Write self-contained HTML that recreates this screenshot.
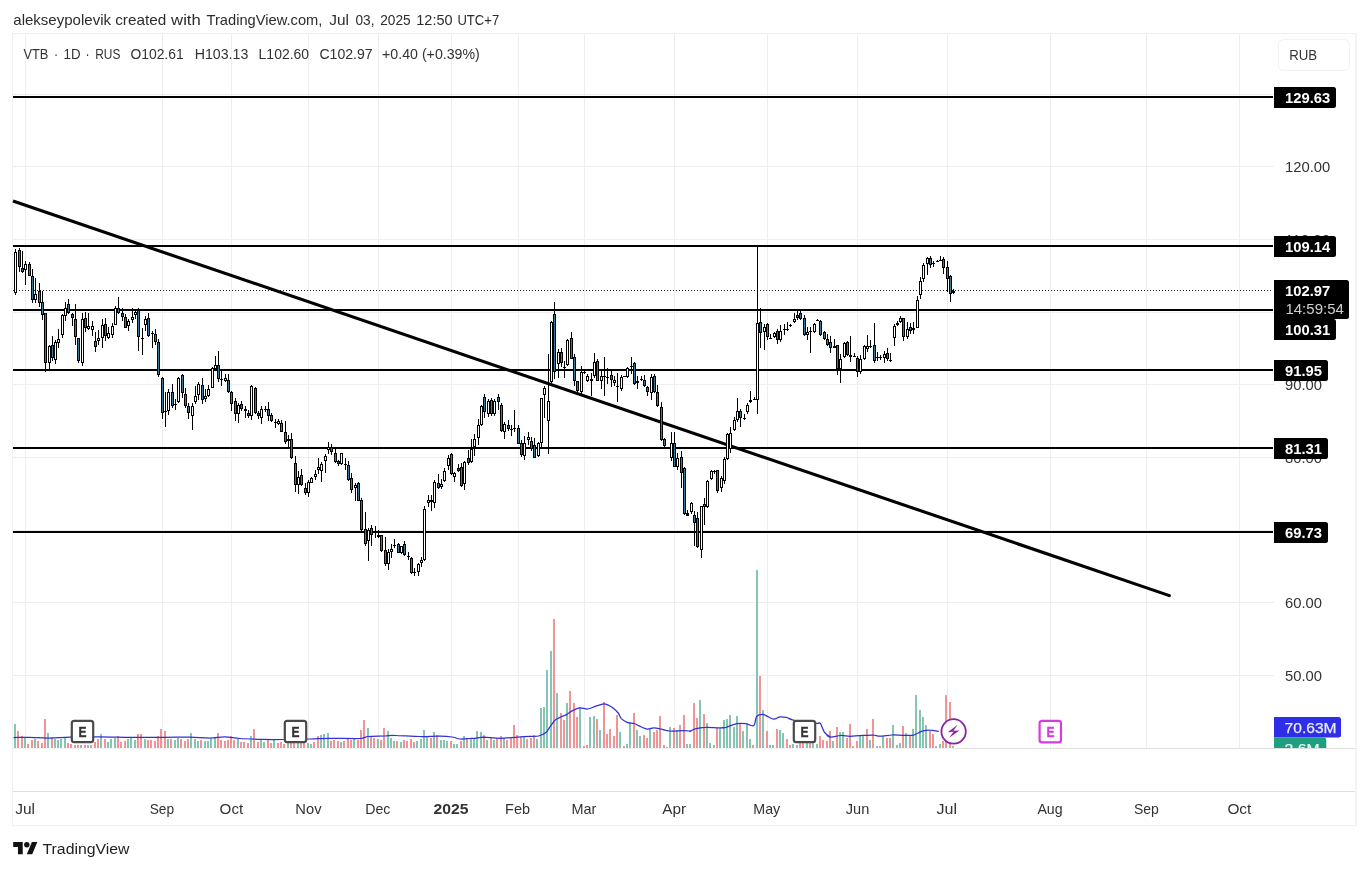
<!DOCTYPE html>
<html lang="en"><head><meta charset="utf-8"><title>VTB 1D chart</title>
<style>
html,body{margin:0;padding:0;background:#fff;}
body{width:1368px;height:870px;overflow:hidden;font-family:'Liberation Sans', sans-serif;}
svg{display:block;}
text{font-family:'Liberation Sans', sans-serif;}
.ax{font-size:14.6px;fill:#333;}
.lbl{font-size:15.5px;fill:#fff;font-weight:bold;}
</style></head><body>
<svg width="1368" height="870" viewBox="0 0 1368 870">
<rect width="1368" height="870" fill="#fff"/>

<text y="25" font-size="14.8" fill="#2c2c2c"><tspan x="13.3" textLength="97.7" lengthAdjust="spacingAndGlyphs">alekseypolevik</tspan> <tspan x="115.2" textLength="51.0" lengthAdjust="spacingAndGlyphs">created</tspan> <tspan x="171.1" textLength="29.7" lengthAdjust="spacingAndGlyphs">with</tspan> <tspan x="206.5" textLength="115.9" lengthAdjust="spacingAndGlyphs">TradingView.com,</tspan> <tspan x="329.3" textLength="19.7" lengthAdjust="spacingAndGlyphs">Jul</tspan> <tspan x="355.5" textLength="19.0" lengthAdjust="spacingAndGlyphs">03,</tspan> <tspan x="380.2" textLength="30.4" lengthAdjust="spacingAndGlyphs">2025</tspan> <tspan x="416.3" textLength="36.2" lengthAdjust="spacingAndGlyphs">12:50</tspan> <tspan x="457.4" textLength="41.8" lengthAdjust="spacingAndGlyphs">UTC+7</tspan></text>
<g shape-rendering="crispEdges">
<rect x="12" y="33" width="1343" height="793" fill="#fff" stroke="none"/>
<rect x="25" y="34" width="1" height="714" fill="#eeeef0"/>
<rect x="162" y="34" width="1" height="714" fill="#eeeef0"/>
<rect x="231" y="34" width="1" height="714" fill="#eeeef0"/>
<rect x="308" y="34" width="1" height="714" fill="#eeeef0"/>
<rect x="378" y="34" width="1" height="714" fill="#eeeef0"/>
<rect x="451" y="34" width="1" height="714" fill="#eeeef0"/>
<rect x="518" y="34" width="1" height="714" fill="#eeeef0"/>
<rect x="584" y="34" width="1" height="714" fill="#eeeef0"/>
<rect x="674" y="34" width="1" height="714" fill="#eeeef0"/>
<rect x="767" y="34" width="1" height="714" fill="#eeeef0"/>
<rect x="857" y="34" width="1" height="714" fill="#eeeef0"/>
<rect x="947" y="34" width="1" height="714" fill="#eeeef0"/>
<rect x="1050" y="34" width="1" height="714" fill="#eeeef0"/>
<rect x="1146" y="34" width="1" height="714" fill="#eeeef0"/>
<rect x="1239" y="34" width="1" height="714" fill="#eeeef0"/>
<rect x="13" y="94" width="1261" height="1" fill="#eeeef0"/>
<rect x="13" y="166" width="1261" height="1" fill="#eeeef0"/>
<rect x="13" y="239" width="1261" height="1" fill="#eeeef0"/>
<rect x="13" y="312" width="1261" height="1" fill="#eeeef0"/>
<rect x="13" y="384" width="1261" height="1" fill="#eeeef0"/>
<rect x="13" y="457" width="1261" height="1" fill="#eeeef0"/>
<rect x="13" y="530" width="1261" height="1" fill="#eeeef0"/>
<rect x="13" y="602" width="1261" height="1" fill="#eeeef0"/>
<rect x="13" y="675" width="1261" height="1" fill="#eeeef0"/>
<rect x="13" y="748" width="942" height="1" fill="#f3f3f3"/>
<rect x="955" y="748" width="400" height="1" fill="#dedede"/>
<rect x="13" y="791" width="1342" height="1" fill="#dedede"/>
<rect x="12" y="33" width="1343" height="1" fill="#f0f0f2"/>
<rect x="12" y="825" width="1343" height="1" fill="#f0f0f2"/>
<rect x="12" y="33" width="1" height="793" fill="#f0f0f2"/>
<rect x="1355" y="33" width="2" height="793" fill="#f3f3f5"/>
</g>
<g shape-rendering="crispEdges">
<rect x="14" y="723.5" width="2" height="24.5" fill="#86c5b4"/>
<rect x="17" y="731.0" width="2" height="17.0" fill="#ef9497"/>
<rect x="21" y="736.3" width="2" height="11.7" fill="#ef9497"/>
<rect x="24" y="737.0" width="2" height="11.0" fill="#86c5b4"/>
<rect x="27" y="744.1" width="2" height="3.9" fill="#ef9497"/>
<rect x="31" y="740.4" width="2" height="7.6" fill="#ef9497"/>
<rect x="34" y="739.2" width="2" height="8.8" fill="#86c5b4"/>
<rect x="37" y="741.3" width="2" height="6.7" fill="#ef9497"/>
<rect x="41" y="742.5" width="2" height="5.5" fill="#ef9497"/>
<rect x="44" y="719.3" width="2" height="28.7" fill="#ef9497"/>
<rect x="47" y="733.4" width="2" height="14.6" fill="#86c5b4"/>
<rect x="51" y="737.0" width="2" height="11.0" fill="#ef9497"/>
<rect x="54" y="739.2" width="2" height="8.8" fill="#86c5b4"/>
<rect x="57" y="740.4" width="2" height="7.6" fill="#86c5b4"/>
<rect x="60" y="739.2" width="2" height="8.8" fill="#86c5b4"/>
<rect x="64" y="737.0" width="2" height="11.0" fill="#86c5b4"/>
<rect x="67" y="742.5" width="2" height="5.5" fill="#ef9497"/>
<rect x="70" y="744.1" width="2" height="3.9" fill="#ef9497"/>
<rect x="74" y="745.0" width="2" height="3.0" fill="#ef9497"/>
<rect x="77" y="745.0" width="2" height="3.0" fill="#ef9497"/>
<rect x="80" y="745.0" width="2" height="3.0" fill="#86c5b4"/>
<rect x="84" y="745.0" width="2" height="3.0" fill="#ef9497"/>
<rect x="87" y="745.0" width="2" height="3.0" fill="#ef9497"/>
<rect x="90" y="744.5" width="2" height="3.5" fill="#86c5b4"/>
<rect x="94" y="741.6" width="2" height="6.4" fill="#ef9497"/>
<rect x="97" y="739.2" width="2" height="8.8" fill="#ef9497"/>
<rect x="100" y="734.3" width="2" height="13.7" fill="#86c5b4"/>
<rect x="104" y="739.2" width="2" height="8.8" fill="#ef9497"/>
<rect x="107" y="742.2" width="2" height="5.8" fill="#86c5b4"/>
<rect x="110" y="739.2" width="2" height="8.8" fill="#86c5b4"/>
<rect x="114" y="737.5" width="2" height="10.5" fill="#86c5b4"/>
<rect x="117" y="735.5" width="2" height="12.5" fill="#ef9497"/>
<rect x="120" y="741.6" width="2" height="6.4" fill="#ef9497"/>
<rect x="124" y="741.3" width="2" height="6.7" fill="#ef9497"/>
<rect x="127" y="739.2" width="2" height="8.8" fill="#86c5b4"/>
<rect x="130" y="738.3" width="2" height="9.7" fill="#86c5b4"/>
<rect x="134" y="740.2" width="2" height="7.8" fill="#86c5b4"/>
<rect x="137" y="734.3" width="2" height="13.7" fill="#ef9497"/>
<rect x="140" y="734.3" width="2" height="13.7" fill="#ef9497"/>
<rect x="144" y="739.2" width="2" height="8.8" fill="#86c5b4"/>
<rect x="147" y="740.2" width="2" height="7.8" fill="#ef9497"/>
<rect x="150" y="740.4" width="2" height="7.6" fill="#ef9497"/>
<rect x="154" y="741.3" width="2" height="6.7" fill="#ef9497"/>
<rect x="157" y="735.5" width="2" height="12.5" fill="#ef9497"/>
<rect x="160" y="729.3" width="2" height="18.7" fill="#ef9497"/>
<rect x="164" y="731.3" width="2" height="16.7" fill="#ef9497"/>
<rect x="167" y="738.6" width="2" height="9.4" fill="#86c5b4"/>
<rect x="170" y="738.6" width="2" height="9.4" fill="#ef9497"/>
<rect x="174" y="740.4" width="2" height="7.6" fill="#86c5b4"/>
<rect x="177" y="738.3" width="2" height="9.7" fill="#86c5b4"/>
<rect x="180" y="739.2" width="2" height="8.8" fill="#ef9497"/>
<rect x="184" y="741.3" width="2" height="6.7" fill="#ef9497"/>
<rect x="187" y="739.2" width="2" height="8.8" fill="#ef9497"/>
<rect x="190" y="733.4" width="2" height="14.6" fill="#86c5b4"/>
<rect x="194" y="738.6" width="2" height="9.4" fill="#86c5b4"/>
<rect x="197" y="741.3" width="2" height="6.7" fill="#86c5b4"/>
<rect x="200" y="740.4" width="2" height="7.6" fill="#ef9497"/>
<rect x="204" y="741.3" width="2" height="6.7" fill="#86c5b4"/>
<rect x="207" y="741.3" width="2" height="6.7" fill="#86c5b4"/>
<rect x="210" y="738.3" width="2" height="9.7" fill="#86c5b4"/>
<rect x="214" y="736.7" width="2" height="11.3" fill="#86c5b4"/>
<rect x="217" y="733.4" width="2" height="14.6" fill="#ef9497"/>
<rect x="220" y="740.2" width="2" height="7.8" fill="#ef9497"/>
<rect x="224" y="741.3" width="2" height="6.7" fill="#ef9497"/>
<rect x="227" y="740.4" width="2" height="7.6" fill="#ef9497"/>
<rect x="230" y="736.3" width="2" height="11.7" fill="#ef9497"/>
<rect x="233" y="740.2" width="2" height="7.8" fill="#ef9497"/>
<rect x="237" y="739.2" width="2" height="8.8" fill="#86c5b4"/>
<rect x="240" y="742.2" width="2" height="5.8" fill="#ef9497"/>
<rect x="243" y="742.2" width="2" height="5.8" fill="#ef9497"/>
<rect x="247" y="743.3" width="2" height="4.7" fill="#ef9497"/>
<rect x="250" y="736.3" width="2" height="11.7" fill="#86c5b4"/>
<rect x="253" y="729.3" width="2" height="18.7" fill="#ef9497"/>
<rect x="257" y="742.2" width="2" height="5.8" fill="#ef9497"/>
<rect x="260" y="739.2" width="2" height="8.8" fill="#86c5b4"/>
<rect x="263" y="742.2" width="2" height="5.8" fill="#86c5b4"/>
<rect x="267" y="740.2" width="2" height="7.8" fill="#ef9497"/>
<rect x="270" y="743.3" width="2" height="4.7" fill="#ef9497"/>
<rect x="273" y="739.2" width="2" height="8.8" fill="#86c5b4"/>
<rect x="277" y="743.3" width="2" height="4.7" fill="#ef9497"/>
<rect x="280" y="742.2" width="2" height="5.8" fill="#ef9497"/>
<rect x="283" y="744.1" width="2" height="3.9" fill="#ef9497"/>
<rect x="287" y="742.0" width="2" height="6.0" fill="#86c5b4"/>
<rect x="290" y="739.0" width="2" height="9.0" fill="#ef9497"/>
<rect x="293" y="734.0" width="2" height="14.0" fill="#ef9497"/>
<rect x="297" y="739.0" width="2" height="9.0" fill="#86c5b4"/>
<rect x="300" y="741.0" width="2" height="7.0" fill="#ef9497"/>
<rect x="303" y="742.0" width="2" height="6.0" fill="#ef9497"/>
<rect x="307" y="743.3" width="2" height="4.7" fill="#86c5b4"/>
<rect x="310" y="744.1" width="2" height="3.9" fill="#86c5b4"/>
<rect x="313" y="742.2" width="2" height="5.8" fill="#ef9497"/>
<rect x="317" y="736.3" width="2" height="11.7" fill="#ef9497"/>
<rect x="320" y="735.1" width="2" height="12.9" fill="#86c5b4"/>
<rect x="323" y="734.3" width="2" height="13.7" fill="#86c5b4"/>
<rect x="327" y="733.4" width="2" height="14.6" fill="#86c5b4"/>
<rect x="330" y="741.3" width="2" height="6.7" fill="#ef9497"/>
<rect x="333" y="740.4" width="2" height="7.6" fill="#ef9497"/>
<rect x="337" y="741.3" width="2" height="6.7" fill="#ef9497"/>
<rect x="340" y="742.2" width="2" height="5.8" fill="#86c5b4"/>
<rect x="343" y="741.3" width="2" height="6.7" fill="#ef9497"/>
<rect x="347" y="738.3" width="2" height="9.7" fill="#ef9497"/>
<rect x="350" y="740.2" width="2" height="7.8" fill="#ef9497"/>
<rect x="353" y="737.5" width="2" height="10.5" fill="#86c5b4"/>
<rect x="357" y="740.2" width="2" height="7.8" fill="#ef9497"/>
<rect x="360" y="730.1" width="2" height="17.9" fill="#ef9497"/>
<rect x="363" y="720.3" width="2" height="27.7" fill="#ef9497"/>
<rect x="367" y="728.1" width="2" height="19.9" fill="#86c5b4"/>
<rect x="370" y="735.5" width="2" height="12.5" fill="#ef9497"/>
<rect x="373" y="737.5" width="2" height="10.5" fill="#ef9497"/>
<rect x="377" y="739.2" width="2" height="8.8" fill="#86c5b4"/>
<rect x="380" y="740.2" width="2" height="7.8" fill="#ef9497"/>
<rect x="383" y="728.1" width="2" height="19.9" fill="#ef9497"/>
<rect x="387" y="731.3" width="2" height="16.7" fill="#86c5b4"/>
<rect x="390" y="738.1" width="2" height="9.9" fill="#86c5b4"/>
<rect x="393" y="741.3" width="2" height="6.7" fill="#86c5b4"/>
<rect x="396" y="741.3" width="2" height="6.7" fill="#ef9497"/>
<rect x="400" y="742.2" width="2" height="5.8" fill="#86c5b4"/>
<rect x="403" y="740.2" width="2" height="7.8" fill="#ef9497"/>
<rect x="406" y="741.3" width="2" height="6.7" fill="#ef9497"/>
<rect x="410" y="739.2" width="2" height="8.8" fill="#ef9497"/>
<rect x="413" y="742.2" width="2" height="5.8" fill="#ef9497"/>
<rect x="416" y="741.3" width="2" height="6.7" fill="#86c5b4"/>
<rect x="420" y="739.2" width="2" height="8.8" fill="#86c5b4"/>
<rect x="423" y="730.1" width="2" height="17.9" fill="#86c5b4"/>
<rect x="426" y="736.9" width="2" height="11.1" fill="#86c5b4"/>
<rect x="430" y="737.5" width="2" height="10.5" fill="#ef9497"/>
<rect x="433" y="732.2" width="2" height="15.8" fill="#86c5b4"/>
<rect x="436" y="735.1" width="2" height="12.9" fill="#ef9497"/>
<rect x="440" y="740.2" width="2" height="7.8" fill="#86c5b4"/>
<rect x="443" y="740.2" width="2" height="7.8" fill="#86c5b4"/>
<rect x="446" y="741.3" width="2" height="6.7" fill="#86c5b4"/>
<rect x="450" y="741.3" width="2" height="6.7" fill="#ef9497"/>
<rect x="453" y="744.1" width="2" height="3.9" fill="#86c5b4"/>
<rect x="456" y="744.1" width="2" height="3.9" fill="#86c5b4"/>
<rect x="460" y="741.3" width="2" height="6.7" fill="#ef9497"/>
<rect x="463" y="736.3" width="2" height="11.7" fill="#86c5b4"/>
<rect x="466" y="739.2" width="2" height="8.8" fill="#ef9497"/>
<rect x="470" y="737.5" width="2" height="10.5" fill="#86c5b4"/>
<rect x="473" y="737.5" width="2" height="10.5" fill="#86c5b4"/>
<rect x="476" y="731.3" width="2" height="16.7" fill="#86c5b4"/>
<rect x="480" y="732.2" width="2" height="15.8" fill="#86c5b4"/>
<rect x="483" y="735.1" width="2" height="12.9" fill="#ef9497"/>
<rect x="486" y="740.0" width="2" height="8.0" fill="#86c5b4"/>
<rect x="490" y="737.9" width="2" height="10.1" fill="#ef9497"/>
<rect x="493" y="740.0" width="2" height="8.0" fill="#86c5b4"/>
<rect x="496" y="738.3" width="2" height="9.7" fill="#ef9497"/>
<rect x="500" y="736.3" width="2" height="11.7" fill="#ef9497"/>
<rect x="503" y="737.9" width="2" height="10.1" fill="#86c5b4"/>
<rect x="506" y="740.0" width="2" height="8.0" fill="#ef9497"/>
<rect x="510" y="737.9" width="2" height="10.1" fill="#ef9497"/>
<rect x="513" y="725.0" width="2" height="23.0" fill="#ef9497"/>
<rect x="516" y="735.1" width="2" height="12.9" fill="#ef9497"/>
<rect x="520" y="737.1" width="2" height="10.9" fill="#ef9497"/>
<rect x="523" y="737.1" width="2" height="10.9" fill="#86c5b4"/>
<rect x="526" y="739.0" width="2" height="9.0" fill="#ef9497"/>
<rect x="530" y="737.9" width="2" height="10.1" fill="#ef9497"/>
<rect x="533" y="735.1" width="2" height="12.9" fill="#ef9497"/>
<rect x="536" y="739.0" width="2" height="9.0" fill="#86c5b4"/>
<rect x="540" y="708.1" width="2" height="39.9" fill="#86c5b4"/>
<rect x="543" y="707.0" width="2" height="41.0" fill="#86c5b4"/>
<rect x="546" y="670.0" width="2" height="78.0" fill="#86c5b4"/>
<rect x="550" y="651.0" width="2" height="97.0" fill="#86c5b4"/>
<rect x="553" y="619.1" width="2" height="128.9" fill="#ef9497"/>
<rect x="556" y="692.8" width="2" height="55.2" fill="#86c5b4"/>
<rect x="560" y="712.9" width="2" height="35.1" fill="#ef9497"/>
<rect x="563" y="720.2" width="2" height="27.8" fill="#ef9497"/>
<rect x="566" y="703.0" width="2" height="45.0" fill="#86c5b4"/>
<rect x="569" y="690.9" width="2" height="57.1" fill="#ef9497"/>
<rect x="573" y="703.0" width="2" height="45.0" fill="#ef9497"/>
<rect x="576" y="717.0" width="2" height="31.0" fill="#ef9497"/>
<rect x="579" y="707.3" width="2" height="40.7" fill="#86c5b4"/>
<rect x="583" y="746.0" width="2" height="2.0" fill="#ef9497"/>
<rect x="586" y="745.1" width="2" height="2.9" fill="#ef9497"/>
<rect x="589" y="717.0" width="2" height="31.0" fill="#86c5b4"/>
<rect x="593" y="715.8" width="2" height="32.2" fill="#86c5b4"/>
<rect x="596" y="719.0" width="2" height="29.0" fill="#ef9497"/>
<rect x="599" y="729.8" width="2" height="18.2" fill="#86c5b4"/>
<rect x="603" y="702.0" width="2" height="46.0" fill="#ef9497"/>
<rect x="606" y="733.8" width="2" height="14.2" fill="#ef9497"/>
<rect x="609" y="729.0" width="2" height="19.0" fill="#ef9497"/>
<rect x="613" y="736.3" width="2" height="11.7" fill="#ef9497"/>
<rect x="616" y="714.8" width="2" height="33.2" fill="#ef9497"/>
<rect x="619" y="731.9" width="2" height="16.1" fill="#86c5b4"/>
<rect x="623" y="746.0" width="2" height="2.0" fill="#ef9497"/>
<rect x="626" y="743.8" width="2" height="4.2" fill="#86c5b4"/>
<rect x="629" y="723.4" width="2" height="24.6" fill="#86c5b4"/>
<rect x="633" y="712.9" width="2" height="35.1" fill="#ef9497"/>
<rect x="636" y="729.8" width="2" height="18.2" fill="#86c5b4"/>
<rect x="639" y="736.3" width="2" height="11.7" fill="#86c5b4"/>
<rect x="643" y="735.1" width="2" height="12.9" fill="#ef9497"/>
<rect x="646" y="737.9" width="2" height="10.1" fill="#ef9497"/>
<rect x="649" y="729.0" width="2" height="19.0" fill="#86c5b4"/>
<rect x="653" y="731.9" width="2" height="16.1" fill="#ef9497"/>
<rect x="656" y="729.8" width="2" height="18.2" fill="#ef9497"/>
<rect x="659" y="715.8" width="2" height="32.2" fill="#ef9497"/>
<rect x="663" y="744.8" width="2" height="3.2" fill="#ef9497"/>
<rect x="666" y="747.0" width="2" height="1.0" fill="#86c5b4"/>
<rect x="669" y="727.1" width="2" height="20.9" fill="#86c5b4"/>
<rect x="673" y="727.9" width="2" height="20.1" fill="#ef9497"/>
<rect x="676" y="729.8" width="2" height="18.2" fill="#86c5b4"/>
<rect x="679" y="725.0" width="2" height="23.0" fill="#ef9497"/>
<rect x="683" y="714.8" width="2" height="33.2" fill="#ef9497"/>
<rect x="686" y="743.8" width="2" height="4.2" fill="#86c5b4"/>
<rect x="689" y="743.8" width="2" height="4.2" fill="#86c5b4"/>
<rect x="693" y="703.0" width="2" height="45.0" fill="#ef9497"/>
<rect x="696" y="718.0" width="2" height="30.0" fill="#ef9497"/>
<rect x="699" y="700.2" width="2" height="47.8" fill="#86c5b4"/>
<rect x="703" y="714.1" width="2" height="33.9" fill="#ef9497"/>
<rect x="706" y="723.2" width="2" height="24.8" fill="#86c5b4"/>
<rect x="709" y="743.3" width="2" height="4.7" fill="#86c5b4"/>
<rect x="713" y="745.4" width="2" height="2.6" fill="#86c5b4"/>
<rect x="716" y="728.3" width="2" height="19.7" fill="#ef9497"/>
<rect x="719" y="728.3" width="2" height="19.7" fill="#86c5b4"/>
<rect x="723" y="720.1" width="2" height="27.9" fill="#86c5b4"/>
<rect x="726" y="719.0" width="2" height="29.0" fill="#86c5b4"/>
<rect x="729" y="715.4" width="2" height="32.6" fill="#86c5b4"/>
<rect x="733" y="727.3" width="2" height="20.7" fill="#86c5b4"/>
<rect x="736" y="716.1" width="2" height="31.9" fill="#86c5b4"/>
<rect x="739" y="722.6" width="2" height="25.4" fill="#ef9497"/>
<rect x="742" y="731.2" width="2" height="16.8" fill="#86c5b4"/>
<rect x="746" y="724.2" width="2" height="23.8" fill="#86c5b4"/>
<rect x="749" y="739.2" width="2" height="8.8" fill="#86c5b4"/>
<rect x="752" y="745.1" width="2" height="2.9" fill="#ef9497"/>
<rect x="756" y="570.0" width="2" height="178.0" fill="#86c5b4"/>
<rect x="759" y="676.1" width="2" height="71.9" fill="#ef9497"/>
<rect x="762" y="710.2" width="2" height="37.8" fill="#86c5b4"/>
<rect x="766" y="731.2" width="2" height="16.8" fill="#ef9497"/>
<rect x="769" y="745.4" width="2" height="2.6" fill="#86c5b4"/>
<rect x="772" y="745.4" width="2" height="2.6" fill="#86c5b4"/>
<rect x="776" y="729.2" width="2" height="18.8" fill="#ef9497"/>
<rect x="779" y="730.2" width="2" height="17.8" fill="#86c5b4"/>
<rect x="782" y="733.1" width="2" height="14.9" fill="#86c5b4"/>
<rect x="786" y="739.2" width="2" height="8.8" fill="#ef9497"/>
<rect x="789" y="745.1" width="2" height="2.9" fill="#ef9497"/>
<rect x="792" y="744.4" width="2" height="3.6" fill="#86c5b4"/>
<rect x="796" y="745.0" width="2" height="3.0" fill="#86c5b4"/>
<rect x="799" y="736.0" width="2" height="12.0" fill="#ef9497"/>
<rect x="802" y="732.0" width="2" height="16.0" fill="#ef9497"/>
<rect x="806" y="739.0" width="2" height="9.0" fill="#86c5b4"/>
<rect x="809" y="734.0" width="2" height="14.0" fill="#ef9497"/>
<rect x="812" y="739.0" width="2" height="9.0" fill="#86c5b4"/>
<rect x="816" y="744.4" width="2" height="3.6" fill="#86c5b4"/>
<rect x="819" y="736.1" width="2" height="11.9" fill="#ef9497"/>
<rect x="822" y="740.2" width="2" height="7.8" fill="#ef9497"/>
<rect x="826" y="741.3" width="2" height="6.7" fill="#ef9497"/>
<rect x="829" y="731.2" width="2" height="16.8" fill="#ef9497"/>
<rect x="832" y="741.3" width="2" height="6.7" fill="#86c5b4"/>
<rect x="836" y="727.3" width="2" height="20.7" fill="#ef9497"/>
<rect x="839" y="732.3" width="2" height="15.7" fill="#86c5b4"/>
<rect x="842" y="732.3" width="2" height="15.7" fill="#86c5b4"/>
<rect x="846" y="738.2" width="2" height="9.8" fill="#ef9497"/>
<rect x="849" y="724.2" width="2" height="23.8" fill="#ef9497"/>
<rect x="852" y="746.1" width="2" height="1.9" fill="#ef9497"/>
<rect x="856" y="741.3" width="2" height="6.7" fill="#ef9497"/>
<rect x="859" y="736.1" width="2" height="11.9" fill="#86c5b4"/>
<rect x="862" y="736.1" width="2" height="11.9" fill="#86c5b4"/>
<rect x="866" y="729.2" width="2" height="18.8" fill="#ef9497"/>
<rect x="869" y="740.2" width="2" height="7.8" fill="#86c5b4"/>
<rect x="872" y="719.2" width="2" height="28.8" fill="#ef9497"/>
<rect x="876" y="746.1" width="2" height="1.9" fill="#86c5b4"/>
<rect x="879" y="746.1" width="2" height="1.9" fill="#ef9497"/>
<rect x="882" y="736.1" width="2" height="11.9" fill="#86c5b4"/>
<rect x="886" y="738.2" width="2" height="9.8" fill="#ef9497"/>
<rect x="889" y="738.2" width="2" height="9.8" fill="#ef9497"/>
<rect x="892" y="725.2" width="2" height="22.8" fill="#86c5b4"/>
<rect x="896" y="745.4" width="2" height="2.6" fill="#86c5b4"/>
<rect x="899" y="743.3" width="2" height="4.7" fill="#86c5b4"/>
<rect x="902" y="726.3" width="2" height="21.7" fill="#ef9497"/>
<rect x="905" y="733.1" width="2" height="14.9" fill="#86c5b4"/>
<rect x="909" y="736.1" width="2" height="11.9" fill="#ef9497"/>
<rect x="912" y="729.2" width="2" height="18.8" fill="#86c5b4"/>
<rect x="915" y="695.2" width="2" height="52.8" fill="#86c5b4"/>
<rect x="919" y="710.2" width="2" height="37.8" fill="#86c5b4"/>
<rect x="922" y="717.2" width="2" height="30.8" fill="#86c5b4"/>
<rect x="925" y="725.2" width="2" height="22.8" fill="#86c5b4"/>
<rect x="929" y="731.2" width="2" height="16.8" fill="#ef9497"/>
<rect x="932" y="734.1" width="2" height="13.9" fill="#ef9497"/>
<rect x="935" y="746.1" width="2" height="1.9" fill="#86c5b4"/>
<rect x="939" y="744.1" width="2" height="3.9" fill="#86c5b4"/>
<rect x="942" y="741.3" width="2" height="6.7" fill="#ef9497"/>
<rect x="945" y="695.2" width="2" height="52.8" fill="#ef9497"/>
<rect x="949" y="702.3" width="2" height="45.7" fill="#ef9497"/>
<rect x="952" y="746.1" width="2" height="1.9" fill="#86c5b4"/>
</g>
<path d="M13.5 737.5C16.1 737.5 24.2 737.2 30.0 737.3C35.8 737.4 43.6 738.2 50.0 738.2C56.4 738.2 62.0 737.4 70.0 737.2C78.0 737.0 90.4 736.8 100.0 736.8C109.6 736.8 119.6 737.2 130.0 737.3C140.4 737.4 155.4 737.3 165.0 737.3C174.6 737.3 182.8 737.1 190.0 737.2C197.2 737.3 204.4 738.1 210.0 738.0C215.6 737.9 220.2 736.7 225.0 736.8C229.8 736.9 234.1 738.1 240.0 738.5C245.9 738.9 255.1 739.2 262.0 739.4C268.9 739.6 275.3 739.6 283.0 739.5C290.7 739.4 302.5 739.2 310.0 739.0C317.5 738.8 322.0 738.4 330.0 738.3C338.0 738.2 353.9 738.8 360.0 738.5C366.1 738.2 364.0 736.9 368.0 736.5C372.0 736.1 380.7 736.2 385.0 736.0C389.3 735.8 389.4 735.4 395.0 735.5C400.6 735.6 412.8 736.4 420.0 736.5C427.2 736.6 434.9 736.1 440.0 736.2C445.1 736.3 448.8 736.6 452.0 737.0C455.2 737.4 457.1 738.8 460.0 739.0C462.9 739.2 467.6 738.6 470.0 738.5C472.4 738.4 472.8 738.6 475.0 738.4C477.2 738.2 479.7 737.2 483.9 737.1C488.0 737.1 494.4 738.3 500.7 738.3C507.1 738.2 517.2 737.0 523.3 736.6C529.3 736.3 535.0 736.6 538.6 736.0C542.2 735.4 543.9 734.2 545.8 732.6C547.7 731.0 549.1 727.9 550.6 725.9C552.2 723.8 553.7 721.2 555.5 719.8C557.3 718.3 560.1 717.4 561.9 716.5C563.7 715.7 565.2 715.5 566.7 714.6C568.3 713.7 569.5 712.1 571.6 711.1C573.6 710.0 577.0 708.2 579.6 707.8C582.2 707.5 585.1 709.2 587.6 709.0C590.2 708.7 593.1 707.1 595.7 706.2C598.3 705.4 601.7 704.0 603.7 703.8C605.8 703.7 607.0 704.6 608.6 705.3C610.1 706.0 611.9 706.9 613.4 708.2C614.9 709.4 616.9 711.3 618.2 713.0C619.5 714.7 620.0 717.1 621.4 718.6C622.9 720.1 625.0 721.6 627.1 722.3C629.1 723.1 632.4 722.9 634.3 723.5C636.2 724.0 637.1 725.0 639.1 725.9C641.2 726.8 644.9 728.8 647.2 729.1C649.5 729.4 651.6 727.9 653.6 727.8C655.7 727.7 657.5 728.2 660.1 728.8C662.6 729.3 666.1 730.7 669.7 731.0C673.3 731.3 679.2 730.7 682.6 730.7C685.9 730.7 689.5 730.9 690.6 731.0C691.8 731.1 689.3 731.8 690.0 731.4C690.7 731.0 692.7 729.5 695.2 728.8C697.7 728.1 701.7 727.4 705.5 727.3C709.3 727.1 715.7 727.8 719.0 727.8C722.3 727.8 723.4 727.9 726.2 727.3C729.0 726.6 733.4 724.2 736.6 723.6C739.7 723.1 743.7 723.4 745.9 723.6C748.0 723.9 748.7 724.9 750.0 725.2C751.3 725.4 753.1 726.6 754.2 725.2C755.2 723.8 755.4 718.1 756.7 716.4C758.1 714.7 760.7 714.3 762.4 714.3C764.2 714.3 765.8 715.6 767.6 716.4C769.4 717.2 771.8 719.1 773.8 719.2C775.8 719.3 778.0 717.2 780.0 716.9C782.0 716.6 784.2 717.0 786.2 717.4C788.2 717.9 789.6 719.1 792.4 719.8C795.3 720.6 799.9 721.5 803.8 722.1C807.8 722.6 814.6 723.1 817.3 723.3C819.9 723.5 819.2 721.9 820.4 723.3C821.5 724.8 823.0 730.3 824.5 732.4C826.1 734.6 829.6 736.3 830.0 736.8C830.4 737.3 826.9 735.5 827.1 735.5C827.3 735.6 829.1 737.1 831.2 737.1C833.4 737.1 837.5 735.7 840.5 735.5C843.5 735.4 846.9 736.3 849.8 736.4C852.8 736.4 855.5 736.0 859.1 735.7C862.8 735.5 869.3 735.0 872.6 735.0C875.9 735.1 876.7 736.1 879.8 736.1C883.0 736.1 888.6 735.1 892.3 735.0C895.9 734.9 899.3 735.3 902.6 735.3C905.9 735.4 910.5 735.7 913.0 735.3C915.4 735.0 916.5 733.7 918.1 733.0C919.8 732.2 921.5 731.3 923.3 730.9C925.1 730.4 927.0 730.1 929.5 730.2C932.0 730.2 937.3 731.2 938.8 731.4" fill="none" stroke="#3030d8" stroke-width="1.25" stroke-linejoin="round"/>
<g shape-rendering="crispEdges">
<rect x="13" y="96" width="1260" height="2" fill="#000"/>
<rect x="13" y="245" width="1260" height="2" fill="#000"/>
<rect x="13" y="309" width="1260" height="2" fill="#000"/>
<rect x="13" y="369" width="1260" height="2" fill="#000"/>
<rect x="13" y="447" width="1260" height="2" fill="#000"/>
<rect x="13" y="531" width="1260" height="2" fill="#000"/>
</g>
<line x1="13" y1="290.5" x2="1273" y2="290.5" stroke="#222" stroke-width="1" stroke-dasharray="1 2" shape-rendering="crispEdges"/>
<line x1="13" y1="201.0" x2="1169.4" y2="595.6" stroke="#000" stroke-width="3.1"/>
<circle cx="1169.4" cy="595.6" r="1.55" fill="#000"/>
<g shape-rendering="crispEdges">
<rect x="15" y="249.2" width="1" height="46.0" fill="#000"/>
<rect x="14" y="252.0" width="3" height="41.4" fill="#000"/>
<rect x="15" y="253.0" width="1" height="39.4" fill="#fff"/>
<rect x="19" y="248.3" width="1" height="23.9" fill="#000"/>
<rect x="18" y="250.1" width="3" height="16.6" fill="#000"/>
<rect x="19" y="251.1" width="1" height="14.6" fill="#3b7798"/>
<rect x="22" y="251.0" width="1" height="22.4" fill="#000"/>
<rect x="21" y="267.6" width="3" height="4.0" fill="#000"/>
<rect x="22" y="268.6" width="1" height="2.0" fill="#3b7798"/>
<rect x="25" y="261.1" width="1" height="23.9" fill="#000"/>
<rect x="24" y="263.9" width="3" height="6.4" fill="#000"/>
<rect x="25" y="264.9" width="1" height="4.4" fill="#fff"/>
<rect x="29" y="262.1" width="1" height="13.8" fill="#000"/>
<rect x="28" y="263.9" width="3" height="12.0" fill="#000"/>
<rect x="29" y="264.9" width="1" height="10.0" fill="#3b7798"/>
<rect x="32" y="269.4" width="1" height="33.1" fill="#000"/>
<rect x="31" y="275.9" width="3" height="23.9" fill="#000"/>
<rect x="32" y="276.9" width="1" height="21.9" fill="#3b7798"/>
<rect x="35" y="277.7" width="1" height="24.8" fill="#000"/>
<rect x="34" y="294.3" width="3" height="5.5" fill="#000"/>
<rect x="35" y="295.3" width="1" height="3.5" fill="#fff"/>
<rect x="39" y="283.2" width="1" height="23.9" fill="#000"/>
<rect x="38" y="290.6" width="3" height="12.0" fill="#000"/>
<rect x="39" y="291.6" width="1" height="10.0" fill="#3b7798"/>
<rect x="42" y="290.6" width="1" height="29.4" fill="#000"/>
<rect x="41" y="301.6" width="3" height="13.8" fill="#000"/>
<rect x="42" y="302.6" width="1" height="11.8" fill="#3b7798"/>
<rect x="45" y="312.6" width="1" height="59.8" fill="#000"/>
<rect x="44" y="312.6" width="3" height="50.6" fill="#000"/>
<rect x="45" y="313.6" width="1" height="48.6" fill="#3b7798"/>
<rect x="49" y="344.8" width="1" height="26.1" fill="#000"/>
<rect x="48" y="345.7" width="3" height="17.5" fill="#000"/>
<rect x="49" y="346.7" width="1" height="15.5" fill="#fff"/>
<rect x="52" y="335.6" width="1" height="25.7" fill="#000"/>
<rect x="51" y="344.8" width="3" height="12.9" fill="#000"/>
<rect x="52" y="345.8" width="1" height="10.9" fill="#3b7798"/>
<rect x="55" y="340.2" width="1" height="23.4" fill="#000"/>
<rect x="54" y="342.1" width="3" height="17.5" fill="#000"/>
<rect x="55" y="343.1" width="1" height="15.5" fill="#fff"/>
<rect x="58" y="329.2" width="1" height="18.4" fill="#000"/>
<rect x="57" y="339.3" width="3" height="3.3" fill="#000"/>
<rect x="58" y="340.3" width="1" height="1.3" fill="#fff"/>
<rect x="62" y="313.6" width="1" height="23.9" fill="#000"/>
<rect x="61" y="314.5" width="3" height="20.2" fill="#000"/>
<rect x="62" y="315.5" width="1" height="18.2" fill="#fff"/>
<rect x="65" y="301.6" width="1" height="19.3" fill="#000"/>
<rect x="64" y="307.7" width="3" height="8.6" fill="#000"/>
<rect x="65" y="308.7" width="1" height="6.6" fill="#fff"/>
<rect x="68" y="298.9" width="1" height="14.7" fill="#000"/>
<rect x="67" y="304.4" width="3" height="8.3" fill="#000"/>
<rect x="68" y="305.4" width="1" height="6.3" fill="#3b7798"/>
<rect x="72" y="312.6" width="1" height="12.9" fill="#000"/>
<rect x="71" y="313.6" width="3" height="4.6" fill="#000"/>
<rect x="72" y="314.6" width="1" height="2.6" fill="#3b7798"/>
<rect x="75" y="304.4" width="1" height="40.5" fill="#000"/>
<rect x="74" y="319.1" width="3" height="17.5" fill="#000"/>
<rect x="75" y="320.1" width="1" height="15.5" fill="#3b7798"/>
<rect x="78" y="337.5" width="1" height="25.4" fill="#000"/>
<rect x="77" y="337.5" width="3" height="23.0" fill="#000"/>
<rect x="78" y="338.5" width="1" height="21.0" fill="#3b7798"/>
<rect x="82" y="313.2" width="1" height="52.8" fill="#000"/>
<rect x="81" y="319.1" width="3" height="44.1" fill="#000"/>
<rect x="82" y="320.1" width="1" height="42.1" fill="#fff"/>
<rect x="85" y="311.7" width="1" height="20.2" fill="#000"/>
<rect x="84" y="318.2" width="3" height="10.1" fill="#000"/>
<rect x="85" y="319.2" width="1" height="8.1" fill="#3b7798"/>
<rect x="88" y="312.6" width="1" height="17.5" fill="#000"/>
<rect x="87" y="326.1" width="3" height="3.1" fill="#000"/>
<rect x="88" y="327.1" width="1" height="1.1" fill="#fff"/>
<rect x="92" y="320.9" width="1" height="14.7" fill="#000"/>
<rect x="91" y="326.1" width="3" height="3.7" fill="#000"/>
<rect x="92" y="327.1" width="1" height="1.7" fill="#fff"/>
<rect x="95" y="332.0" width="1" height="19.7" fill="#000"/>
<rect x="94" y="341.1" width="3" height="5.5" fill="#000"/>
<rect x="95" y="342.1" width="1" height="3.5" fill="#3b7798"/>
<rect x="98" y="330.1" width="1" height="14.7" fill="#000"/>
<rect x="97" y="338.4" width="3" height="2.4" fill="#000"/>
<rect x="98" y="339.4" width="1" height="0.4" fill="#fff"/>
<rect x="102" y="319.1" width="1" height="28.5" fill="#000"/>
<rect x="101" y="324.6" width="3" height="12.9" fill="#000"/>
<rect x="102" y="325.6" width="1" height="10.9" fill="#fff"/>
<rect x="105" y="318.2" width="1" height="22.6" fill="#000"/>
<rect x="104" y="324.2" width="3" height="11.4" fill="#000"/>
<rect x="105" y="325.2" width="1" height="9.4" fill="#3b7798"/>
<rect x="108" y="326.8" width="1" height="12.1" fill="#000"/>
<rect x="107" y="333.4" width="3" height="4.4" fill="#000"/>
<rect x="108" y="334.4" width="1" height="2.4" fill="#fff"/>
<rect x="112" y="322.8" width="1" height="14.7" fill="#000"/>
<rect x="111" y="326.1" width="3" height="8.6" fill="#000"/>
<rect x="112" y="327.1" width="1" height="6.6" fill="#fff"/>
<rect x="115" y="306.2" width="1" height="18.4" fill="#000"/>
<rect x="114" y="307.7" width="3" height="16.9" fill="#000"/>
<rect x="115" y="308.7" width="1" height="14.9" fill="#fff"/>
<rect x="118" y="297.4" width="1" height="16.6" fill="#000"/>
<rect x="117" y="307.7" width="3" height="5.5" fill="#000"/>
<rect x="118" y="308.7" width="1" height="3.5" fill="#3b7798"/>
<rect x="122" y="308.4" width="1" height="12.5" fill="#000"/>
<rect x="121" y="313.2" width="3" height="4.0" fill="#000"/>
<rect x="122" y="314.2" width="1" height="2.0" fill="#3b7798"/>
<rect x="125" y="313.6" width="1" height="14.7" fill="#000"/>
<rect x="124" y="317.2" width="3" height="11.0" fill="#000"/>
<rect x="125" y="318.2" width="1" height="9.0" fill="#3b7798"/>
<rect x="128" y="319.1" width="1" height="12.0" fill="#000"/>
<rect x="127" y="320.9" width="3" height="4.6" fill="#000"/>
<rect x="128" y="321.9" width="1" height="2.6" fill="#fff"/>
<rect x="132" y="308.4" width="1" height="14.7" fill="#000"/>
<rect x="131" y="316.7" width="3" height="3.7" fill="#000"/>
<rect x="132" y="317.7" width="1" height="1.7" fill="#fff"/>
<rect x="135" y="309.3" width="1" height="10.1" fill="#000"/>
<rect x="134" y="311.7" width="3" height="3.1" fill="#000"/>
<rect x="135" y="312.7" width="1" height="1.1" fill="#fff"/>
<rect x="138" y="307.5" width="1" height="43.2" fill="#000"/>
<rect x="137" y="309.9" width="3" height="27.0" fill="#000"/>
<rect x="138" y="310.9" width="1" height="25.0" fill="#3b7798"/>
<rect x="142" y="328.3" width="1" height="26.5" fill="#000"/>
<rect x="141" y="338.0" width="3" height="1.0" fill="#000"/>
<rect x="145" y="315.7" width="1" height="15.6" fill="#000"/>
<rect x="144" y="318.5" width="3" height="6.1" fill="#000"/>
<rect x="145" y="319.5" width="1" height="4.1" fill="#fff"/>
<rect x="148" y="313.0" width="1" height="23.9" fill="#000"/>
<rect x="147" y="317.6" width="3" height="18.4" fill="#000"/>
<rect x="148" y="318.6" width="1" height="16.4" fill="#3b7798"/>
<rect x="152" y="331.4" width="1" height="16.6" fill="#000"/>
<rect x="151" y="333.0" width="3" height="1.0" fill="#000"/>
<rect x="155" y="329.0" width="1" height="16.2" fill="#000"/>
<rect x="154" y="334.1" width="3" height="7.4" fill="#000"/>
<rect x="155" y="335.1" width="1" height="5.4" fill="#3b7798"/>
<rect x="158" y="339.3" width="1" height="37.5" fill="#000"/>
<rect x="157" y="341.5" width="3" height="33.1" fill="#000"/>
<rect x="158" y="342.5" width="1" height="31.1" fill="#3b7798"/>
<rect x="162" y="376.8" width="1" height="41.9" fill="#000"/>
<rect x="161" y="378.3" width="3" height="34.9" fill="#000"/>
<rect x="162" y="379.3" width="1" height="32.9" fill="#3b7798"/>
<rect x="165" y="392.1" width="1" height="34.9" fill="#000"/>
<rect x="164" y="410.5" width="3" height="1.8" fill="#000"/>
<rect x="168" y="389.3" width="1" height="25.7" fill="#000"/>
<rect x="167" y="392.1" width="3" height="19.3" fill="#000"/>
<rect x="168" y="393.1" width="1" height="17.3" fill="#fff"/>
<rect x="172" y="384.2" width="1" height="23.5" fill="#000"/>
<rect x="171" y="392.1" width="3" height="13.8" fill="#000"/>
<rect x="172" y="393.1" width="1" height="11.8" fill="#3b7798"/>
<rect x="175" y="398.5" width="1" height="11.0" fill="#000"/>
<rect x="174" y="404.0" width="3" height="1.0" fill="#000"/>
<rect x="178" y="377.4" width="1" height="25.2" fill="#000"/>
<rect x="177" y="378.3" width="3" height="23.9" fill="#000"/>
<rect x="178" y="379.3" width="1" height="21.9" fill="#fff"/>
<rect x="182" y="374.2" width="1" height="23.4" fill="#000"/>
<rect x="181" y="374.6" width="3" height="18.8" fill="#000"/>
<rect x="182" y="375.6" width="1" height="16.8" fill="#3b7798"/>
<rect x="185" y="387.5" width="1" height="20.2" fill="#000"/>
<rect x="184" y="393.9" width="3" height="12.0" fill="#000"/>
<rect x="185" y="394.9" width="1" height="10.0" fill="#3b7798"/>
<rect x="188" y="402.6" width="1" height="16.2" fill="#000"/>
<rect x="187" y="405.5" width="3" height="7.4" fill="#000"/>
<rect x="188" y="406.5" width="1" height="5.4" fill="#3b7798"/>
<rect x="192" y="402.6" width="1" height="27.6" fill="#000"/>
<rect x="191" y="405.5" width="3" height="10.5" fill="#000"/>
<rect x="192" y="406.5" width="1" height="8.5" fill="#fff"/>
<rect x="195" y="385.6" width="1" height="18.4" fill="#000"/>
<rect x="194" y="395.7" width="3" height="6.1" fill="#000"/>
<rect x="195" y="396.7" width="1" height="4.1" fill="#fff"/>
<rect x="198" y="382.0" width="1" height="18.4" fill="#000"/>
<rect x="197" y="384.2" width="3" height="10.3" fill="#000"/>
<rect x="198" y="385.2" width="1" height="8.3" fill="#fff"/>
<rect x="202" y="378.3" width="1" height="25.7" fill="#000"/>
<rect x="201" y="384.7" width="3" height="15.6" fill="#000"/>
<rect x="202" y="385.7" width="1" height="13.6" fill="#3b7798"/>
<rect x="205" y="389.3" width="1" height="12.5" fill="#000"/>
<rect x="204" y="395.7" width="3" height="3.1" fill="#000"/>
<rect x="205" y="396.7" width="1" height="1.1" fill="#fff"/>
<rect x="208" y="385.3" width="1" height="11.4" fill="#000"/>
<rect x="207" y="389.3" width="3" height="6.4" fill="#000"/>
<rect x="208" y="390.3" width="1" height="4.4" fill="#fff"/>
<rect x="212" y="367.2" width="1" height="20.6" fill="#000"/>
<rect x="211" y="368.2" width="3" height="19.3" fill="#000"/>
<rect x="212" y="369.2" width="1" height="17.3" fill="#fff"/>
<rect x="215" y="355.8" width="1" height="15.1" fill="#000"/>
<rect x="214" y="365.0" width="3" height="4.0" fill="#000"/>
<rect x="215" y="366.0" width="1" height="2.0" fill="#fff"/>
<rect x="218" y="351.1" width="1" height="30.9" fill="#000"/>
<rect x="217" y="365.4" width="3" height="13.8" fill="#000"/>
<rect x="218" y="366.4" width="1" height="11.8" fill="#3b7798"/>
<rect x="221" y="370.9" width="1" height="14.7" fill="#000"/>
<rect x="220" y="379.0" width="3" height="1.0" fill="#000"/>
<rect x="225" y="374.2" width="1" height="7.7" fill="#000"/>
<rect x="224" y="378.3" width="3" height="2.8" fill="#000"/>
<rect x="225" y="379.3" width="1" height="0.8" fill="#fff"/>
<rect x="228" y="374.2" width="1" height="18.8" fill="#000"/>
<rect x="227" y="379.7" width="3" height="12.3" fill="#000"/>
<rect x="228" y="380.7" width="1" height="10.3" fill="#3b7798"/>
<rect x="231" y="391.1" width="1" height="19.9" fill="#000"/>
<rect x="230" y="392.1" width="3" height="12.0" fill="#000"/>
<rect x="231" y="393.1" width="1" height="10.0" fill="#3b7798"/>
<rect x="235" y="398.1" width="1" height="22.8" fill="#000"/>
<rect x="234" y="401.3" width="3" height="12.3" fill="#000"/>
<rect x="235" y="402.3" width="1" height="10.3" fill="#3b7798"/>
<rect x="238" y="403.1" width="1" height="19.7" fill="#000"/>
<rect x="237" y="404.9" width="3" height="9.2" fill="#000"/>
<rect x="238" y="405.9" width="1" height="7.2" fill="#fff"/>
<rect x="241" y="401.3" width="1" height="10.1" fill="#000"/>
<rect x="240" y="404.4" width="3" height="4.8" fill="#000"/>
<rect x="241" y="405.4" width="1" height="2.8" fill="#3b7798"/>
<rect x="245" y="406.1" width="1" height="11.6" fill="#000"/>
<rect x="244" y="408.5" width="3" height="2.8" fill="#000"/>
<rect x="245" y="409.5" width="1" height="0.8" fill="#3b7798"/>
<rect x="248" y="410.3" width="1" height="7.4" fill="#000"/>
<rect x="247" y="412.7" width="3" height="3.1" fill="#000"/>
<rect x="248" y="413.7" width="1" height="1.1" fill="#3b7798"/>
<rect x="251" y="385.1" width="1" height="34.4" fill="#000"/>
<rect x="250" y="385.9" width="3" height="30.0" fill="#000"/>
<rect x="251" y="386.9" width="1" height="28.0" fill="#fff"/>
<rect x="255" y="387.4" width="1" height="26.7" fill="#000"/>
<rect x="254" y="387.7" width="3" height="25.4" fill="#000"/>
<rect x="255" y="388.7" width="1" height="23.4" fill="#3b7798"/>
<rect x="258" y="411.3" width="1" height="7.4" fill="#000"/>
<rect x="257" y="412.7" width="3" height="3.7" fill="#000"/>
<rect x="258" y="413.7" width="1" height="1.7" fill="#3b7798"/>
<rect x="261" y="406.1" width="1" height="17.7" fill="#000"/>
<rect x="260" y="409.4" width="3" height="8.3" fill="#000"/>
<rect x="261" y="410.4" width="1" height="6.3" fill="#fff"/>
<rect x="265" y="405.7" width="1" height="6.4" fill="#000"/>
<rect x="264" y="409.0" width="3" height="1.0" fill="#000"/>
<rect x="268" y="402.1" width="1" height="18.8" fill="#000"/>
<rect x="267" y="408.5" width="3" height="7.4" fill="#000"/>
<rect x="268" y="409.5" width="1" height="5.4" fill="#3b7798"/>
<rect x="271" y="413.1" width="1" height="8.8" fill="#000"/>
<rect x="270" y="415.3" width="3" height="5.5" fill="#000"/>
<rect x="271" y="416.3" width="1" height="3.5" fill="#3b7798"/>
<rect x="275" y="419.0" width="1" height="8.8" fill="#000"/>
<rect x="274" y="422.0" width="3" height="1.0" fill="#000"/>
<rect x="278" y="419.0" width="1" height="6.1" fill="#000"/>
<rect x="277" y="421.4" width="3" height="2.4" fill="#000"/>
<rect x="278" y="422.4" width="1" height="0.4" fill="#fff"/>
<rect x="281" y="419.5" width="1" height="12.3" fill="#000"/>
<rect x="280" y="423.2" width="3" height="8.3" fill="#000"/>
<rect x="281" y="424.2" width="1" height="6.3" fill="#3b7798"/>
<rect x="285" y="421.4" width="1" height="22.6" fill="#000"/>
<rect x="284" y="432.4" width="3" height="9.2" fill="#000"/>
<rect x="285" y="433.4" width="1" height="7.2" fill="#3b7798"/>
<rect x="288" y="435.2" width="1" height="12.0" fill="#000"/>
<rect x="287" y="438.5" width="3" height="2.2" fill="#000"/>
<rect x="288" y="439.5" width="1" height="0.2" fill="#fff"/>
<rect x="291" y="433.3" width="1" height="26.1" fill="#000"/>
<rect x="290" y="438.5" width="3" height="19.7" fill="#000"/>
<rect x="291" y="439.5" width="1" height="17.7" fill="#3b7798"/>
<rect x="295" y="456.3" width="1" height="35.5" fill="#000"/>
<rect x="294" y="463.1" width="3" height="22.1" fill="#000"/>
<rect x="295" y="464.1" width="1" height="20.1" fill="#3b7798"/>
<rect x="298" y="470.5" width="1" height="23.5" fill="#000"/>
<rect x="297" y="476.6" width="3" height="8.3" fill="#000"/>
<rect x="298" y="477.6" width="1" height="6.3" fill="#fff"/>
<rect x="301" y="469.2" width="1" height="16.6" fill="#000"/>
<rect x="300" y="475.3" width="3" height="9.9" fill="#000"/>
<rect x="301" y="476.3" width="1" height="7.9" fill="#3b7798"/>
<rect x="305" y="483.0" width="1" height="12.0" fill="#000"/>
<rect x="304" y="487.6" width="3" height="5.0" fill="#000"/>
<rect x="305" y="488.6" width="1" height="3.0" fill="#3b7798"/>
<rect x="308" y="480.2" width="1" height="16.6" fill="#000"/>
<rect x="307" y="482.1" width="3" height="10.5" fill="#000"/>
<rect x="308" y="483.1" width="1" height="8.5" fill="#fff"/>
<rect x="311" y="476.6" width="1" height="6.4" fill="#000"/>
<rect x="310" y="478.4" width="3" height="4.2" fill="#000"/>
<rect x="311" y="479.4" width="1" height="2.2" fill="#fff"/>
<rect x="315" y="470.1" width="1" height="10.1" fill="#000"/>
<rect x="314" y="474.2" width="3" height="2.4" fill="#000"/>
<rect x="315" y="475.2" width="1" height="0.4" fill="#fff"/>
<rect x="318" y="458.2" width="1" height="15.6" fill="#000"/>
<rect x="317" y="467.4" width="3" height="2.8" fill="#000"/>
<rect x="318" y="468.4" width="1" height="0.8" fill="#fff"/>
<rect x="321" y="462.4" width="1" height="19.1" fill="#000"/>
<rect x="320" y="463.7" width="3" height="6.8" fill="#000"/>
<rect x="321" y="464.7" width="1" height="4.8" fill="#fff"/>
<rect x="325" y="453.9" width="1" height="18.9" fill="#000"/>
<rect x="324" y="455.8" width="3" height="5.5" fill="#000"/>
<rect x="325" y="456.8" width="1" height="3.5" fill="#fff"/>
<rect x="328" y="442.2" width="1" height="11.4" fill="#000"/>
<rect x="327" y="446.6" width="3" height="3.3" fill="#000"/>
<rect x="328" y="447.6" width="1" height="1.3" fill="#fff"/>
<rect x="331" y="444.4" width="1" height="11.0" fill="#000"/>
<rect x="330" y="446.6" width="3" height="5.5" fill="#000"/>
<rect x="331" y="447.6" width="1" height="3.5" fill="#3b7798"/>
<rect x="335" y="448.4" width="1" height="14.3" fill="#000"/>
<rect x="334" y="453.2" width="3" height="9.2" fill="#000"/>
<rect x="335" y="454.2" width="1" height="7.2" fill="#3b7798"/>
<rect x="338" y="460.0" width="1" height="6.1" fill="#000"/>
<rect x="337" y="460.9" width="3" height="2.8" fill="#000"/>
<rect x="338" y="461.9" width="1" height="0.8" fill="#3b7798"/>
<rect x="341" y="453.2" width="1" height="11.4" fill="#000"/>
<rect x="340" y="453.2" width="3" height="10.5" fill="#000"/>
<rect x="341" y="454.2" width="1" height="8.5" fill="#fff"/>
<rect x="345" y="458.2" width="1" height="11.6" fill="#000"/>
<rect x="344" y="464.0" width="3" height="1.0" fill="#000"/>
<rect x="348" y="460.9" width="1" height="19.9" fill="#000"/>
<rect x="347" y="465.0" width="3" height="14.7" fill="#000"/>
<rect x="348" y="466.0" width="1" height="12.7" fill="#3b7798"/>
<rect x="351" y="472.9" width="1" height="20.2" fill="#000"/>
<rect x="350" y="478.4" width="3" height="11.6" fill="#000"/>
<rect x="351" y="479.4" width="1" height="9.6" fill="#3b7798"/>
<rect x="355" y="483.0" width="1" height="17.5" fill="#000"/>
<rect x="354" y="484.5" width="3" height="3.7" fill="#000"/>
<rect x="355" y="485.5" width="1" height="1.7" fill="#fff"/>
<rect x="358" y="482.1" width="1" height="19.3" fill="#000"/>
<rect x="357" y="483.4" width="3" height="17.1" fill="#000"/>
<rect x="358" y="484.4" width="1" height="15.1" fill="#3b7798"/>
<rect x="361" y="498.2" width="1" height="32.6" fill="#000"/>
<rect x="360" y="500.0" width="3" height="30.2" fill="#000"/>
<rect x="361" y="501.0" width="1" height="28.2" fill="#3b7798"/>
<rect x="365" y="512.4" width="1" height="33.1" fill="#000"/>
<rect x="364" y="528.9" width="3" height="15.3" fill="#000"/>
<rect x="365" y="529.9" width="1" height="13.3" fill="#3b7798"/>
<rect x="368" y="528.0" width="1" height="32.7" fill="#000"/>
<rect x="367" y="529.8" width="3" height="11.4" fill="#000"/>
<rect x="368" y="530.8" width="1" height="9.4" fill="#fff"/>
<rect x="371" y="525.2" width="1" height="21.1" fill="#000"/>
<rect x="370" y="528.4" width="3" height="7.0" fill="#000"/>
<rect x="371" y="529.4" width="1" height="5.0" fill="#3b7798"/>
<rect x="375" y="525.8" width="1" height="12.3" fill="#000"/>
<rect x="374" y="532.0" width="3" height="1.0" fill="#000"/>
<rect x="378" y="529.8" width="1" height="8.3" fill="#000"/>
<rect x="377" y="535.0" width="3" height="2.2" fill="#000"/>
<rect x="378" y="536.0" width="1" height="0.2" fill="#fff"/>
<rect x="381" y="535.0" width="1" height="16.6" fill="#000"/>
<rect x="380" y="535.3" width="3" height="15.6" fill="#000"/>
<rect x="381" y="536.3" width="1" height="13.6" fill="#3b7798"/>
<rect x="385" y="537.2" width="1" height="28.5" fill="#000"/>
<rect x="384" y="549.7" width="3" height="14.7" fill="#000"/>
<rect x="385" y="550.7" width="1" height="12.7" fill="#3b7798"/>
<rect x="388" y="548.6" width="1" height="21.7" fill="#000"/>
<rect x="387" y="551.9" width="3" height="12.5" fill="#000"/>
<rect x="388" y="552.9" width="1" height="10.5" fill="#fff"/>
<rect x="391" y="543.6" width="1" height="14.7" fill="#000"/>
<rect x="390" y="548.6" width="3" height="3.7" fill="#000"/>
<rect x="391" y="549.6" width="1" height="1.7" fill="#fff"/>
<rect x="394" y="539.4" width="1" height="8.5" fill="#000"/>
<rect x="393" y="545.0" width="3" height="1.0" fill="#000"/>
<rect x="398" y="543.1" width="1" height="10.3" fill="#000"/>
<rect x="397" y="543.6" width="3" height="9.2" fill="#000"/>
<rect x="398" y="544.6" width="1" height="7.2" fill="#3b7798"/>
<rect x="401" y="545.5" width="1" height="8.3" fill="#000"/>
<rect x="400" y="546.4" width="3" height="6.4" fill="#000"/>
<rect x="401" y="547.4" width="1" height="4.4" fill="#fff"/>
<rect x="404" y="540.5" width="1" height="15.1" fill="#000"/>
<rect x="403" y="544.2" width="3" height="11.0" fill="#000"/>
<rect x="404" y="545.2" width="1" height="9.0" fill="#3b7798"/>
<rect x="408" y="552.3" width="1" height="7.9" fill="#000"/>
<rect x="407" y="556.0" width="3" height="1.0" fill="#000"/>
<rect x="411" y="556.5" width="1" height="17.8" fill="#000"/>
<rect x="410" y="557.8" width="3" height="15.3" fill="#000"/>
<rect x="411" y="558.8" width="1" height="13.3" fill="#3b7798"/>
<rect x="414" y="568.1" width="1" height="7.4" fill="#000"/>
<rect x="413" y="572.0" width="3" height="1.0" fill="#000"/>
<rect x="418" y="563.3" width="1" height="12.5" fill="#000"/>
<rect x="417" y="564.4" width="3" height="7.4" fill="#000"/>
<rect x="418" y="565.4" width="1" height="5.4" fill="#fff"/>
<rect x="421" y="557.4" width="1" height="9.2" fill="#000"/>
<rect x="420" y="559.6" width="3" height="3.7" fill="#000"/>
<rect x="421" y="560.6" width="1" height="1.7" fill="#fff"/>
<rect x="424" y="505.9" width="1" height="54.8" fill="#000"/>
<rect x="423" y="509.2" width="3" height="50.9" fill="#000"/>
<rect x="424" y="510.2" width="1" height="48.9" fill="#fff"/>
<rect x="428" y="495.3" width="1" height="12.1" fill="#000"/>
<rect x="427" y="499.5" width="3" height="3.1" fill="#000"/>
<rect x="428" y="500.5" width="1" height="1.1" fill="#fff"/>
<rect x="431" y="494.9" width="1" height="15.6" fill="#000"/>
<rect x="430" y="499.5" width="3" height="2.8" fill="#000"/>
<rect x="431" y="500.5" width="1" height="0.8" fill="#3b7798"/>
<rect x="434" y="480.2" width="1" height="28.0" fill="#000"/>
<rect x="433" y="482.4" width="3" height="20.8" fill="#000"/>
<rect x="434" y="483.4" width="1" height="18.8" fill="#fff"/>
<rect x="438" y="474.3" width="1" height="14.7" fill="#000"/>
<rect x="437" y="482.9" width="3" height="5.5" fill="#000"/>
<rect x="438" y="483.9" width="1" height="3.5" fill="#3b7798"/>
<rect x="441" y="479.3" width="1" height="10.1" fill="#000"/>
<rect x="440" y="483.9" width="3" height="2.8" fill="#000"/>
<rect x="441" y="484.9" width="1" height="0.8" fill="#fff"/>
<rect x="444" y="468.2" width="1" height="13.8" fill="#000"/>
<rect x="443" y="471.0" width="3" height="10.1" fill="#000"/>
<rect x="444" y="472.0" width="1" height="8.1" fill="#fff"/>
<rect x="448" y="455.3" width="1" height="14.7" fill="#000"/>
<rect x="447" y="457.7" width="3" height="8.1" fill="#000"/>
<rect x="448" y="458.7" width="1" height="6.1" fill="#fff"/>
<rect x="451" y="453.0" width="1" height="21.7" fill="#000"/>
<rect x="450" y="454.1" width="3" height="19.7" fill="#000"/>
<rect x="451" y="455.1" width="1" height="17.7" fill="#3b7798"/>
<rect x="454" y="471.9" width="1" height="10.5" fill="#000"/>
<rect x="453" y="472.8" width="3" height="3.7" fill="#000"/>
<rect x="454" y="473.8" width="1" height="1.7" fill="#fff"/>
<rect x="458" y="463.6" width="1" height="8.3" fill="#000"/>
<rect x="457" y="467.7" width="3" height="3.3" fill="#000"/>
<rect x="458" y="468.7" width="1" height="1.3" fill="#3b7798"/>
<rect x="461" y="463.3" width="1" height="23.4" fill="#000"/>
<rect x="460" y="467.3" width="3" height="18.8" fill="#000"/>
<rect x="461" y="468.3" width="1" height="16.8" fill="#3b7798"/>
<rect x="464" y="460.9" width="1" height="28.9" fill="#000"/>
<rect x="463" y="461.8" width="3" height="21.7" fill="#000"/>
<rect x="464" y="462.8" width="1" height="19.7" fill="#fff"/>
<rect x="468" y="450.4" width="1" height="14.2" fill="#000"/>
<rect x="467" y="458.1" width="3" height="4.6" fill="#000"/>
<rect x="468" y="459.1" width="1" height="2.6" fill="#3b7798"/>
<rect x="471" y="438.9" width="1" height="23.9" fill="#000"/>
<rect x="470" y="448.6" width="3" height="12.9" fill="#000"/>
<rect x="471" y="449.6" width="1" height="10.9" fill="#fff"/>
<rect x="474" y="434.3" width="1" height="22.1" fill="#000"/>
<rect x="473" y="439.4" width="3" height="7.7" fill="#000"/>
<rect x="474" y="440.4" width="1" height="5.7" fill="#fff"/>
<rect x="478" y="419.2" width="1" height="26.1" fill="#000"/>
<rect x="477" y="424.7" width="3" height="12.9" fill="#000"/>
<rect x="478" y="425.7" width="1" height="10.9" fill="#fff"/>
<rect x="481" y="404.8" width="1" height="21.1" fill="#000"/>
<rect x="480" y="406.3" width="3" height="18.8" fill="#000"/>
<rect x="481" y="407.3" width="1" height="16.8" fill="#fff"/>
<rect x="484" y="394.2" width="1" height="23.5" fill="#000"/>
<rect x="483" y="396.6" width="3" height="15.6" fill="#000"/>
<rect x="484" y="397.6" width="1" height="13.6" fill="#3b7798"/>
<rect x="488" y="399.3" width="1" height="18.0" fill="#000"/>
<rect x="487" y="400.8" width="3" height="13.2" fill="#000"/>
<rect x="488" y="401.8" width="1" height="11.2" fill="#fff"/>
<rect x="491" y="397.5" width="1" height="18.8" fill="#000"/>
<rect x="490" y="400.2" width="3" height="13.8" fill="#000"/>
<rect x="491" y="401.2" width="1" height="11.8" fill="#3b7798"/>
<rect x="494" y="399.3" width="1" height="16.9" fill="#000"/>
<rect x="493" y="400.8" width="3" height="13.6" fill="#000"/>
<rect x="494" y="401.8" width="1" height="11.6" fill="#fff"/>
<rect x="498" y="394.2" width="1" height="16.2" fill="#000"/>
<rect x="497" y="396.6" width="3" height="5.5" fill="#000"/>
<rect x="498" y="397.6" width="1" height="3.5" fill="#3b7798"/>
<rect x="501" y="403.0" width="1" height="29.4" fill="#000"/>
<rect x="500" y="404.5" width="3" height="26.1" fill="#000"/>
<rect x="501" y="405.5" width="1" height="24.1" fill="#3b7798"/>
<rect x="504" y="422.3" width="1" height="17.1" fill="#000"/>
<rect x="503" y="423.6" width="3" height="8.8" fill="#000"/>
<rect x="504" y="424.6" width="1" height="6.8" fill="#fff"/>
<rect x="508" y="419.5" width="1" height="11.4" fill="#000"/>
<rect x="507" y="425.1" width="3" height="4.0" fill="#000"/>
<rect x="508" y="426.1" width="1" height="2.0" fill="#3b7798"/>
<rect x="511" y="425.4" width="1" height="10.7" fill="#000"/>
<rect x="510" y="429.0" width="3" height="1.0" fill="#000"/>
<rect x="514" y="410.3" width="1" height="22.1" fill="#000"/>
<rect x="513" y="428.0" width="3" height="1.0" fill="#000"/>
<rect x="518" y="425.1" width="1" height="19.3" fill="#000"/>
<rect x="517" y="428.4" width="3" height="15.1" fill="#000"/>
<rect x="518" y="429.4" width="1" height="13.1" fill="#3b7798"/>
<rect x="521" y="439.8" width="1" height="17.5" fill="#000"/>
<rect x="520" y="442.5" width="3" height="12.9" fill="#000"/>
<rect x="521" y="443.5" width="1" height="10.9" fill="#3b7798"/>
<rect x="524" y="436.1" width="1" height="23.5" fill="#000"/>
<rect x="523" y="442.5" width="3" height="13.8" fill="#000"/>
<rect x="524" y="443.5" width="1" height="11.8" fill="#fff"/>
<rect x="528" y="432.0" width="1" height="13.2" fill="#000"/>
<rect x="527" y="437.0" width="3" height="3.1" fill="#000"/>
<rect x="528" y="438.0" width="1" height="1.1" fill="#fff"/>
<rect x="531" y="436.5" width="1" height="14.7" fill="#000"/>
<rect x="530" y="441.2" width="3" height="7.7" fill="#000"/>
<rect x="531" y="442.2" width="1" height="5.7" fill="#3b7798"/>
<rect x="534" y="437.6" width="1" height="20.6" fill="#000"/>
<rect x="533" y="445.3" width="3" height="12.5" fill="#000"/>
<rect x="534" y="446.3" width="1" height="10.5" fill="#3b7798"/>
<rect x="538" y="441.6" width="1" height="15.6" fill="#000"/>
<rect x="537" y="442.5" width="3" height="13.8" fill="#000"/>
<rect x="538" y="443.5" width="1" height="11.8" fill="#fff"/>
<rect x="541" y="398.4" width="1" height="50.6" fill="#000"/>
<rect x="540" y="398.4" width="3" height="44.1" fill="#000"/>
<rect x="541" y="399.4" width="1" height="42.1" fill="#fff"/>
<rect x="544" y="386.1" width="1" height="31.6" fill="#000"/>
<rect x="543" y="388.3" width="3" height="7.0" fill="#000"/>
<rect x="544" y="389.3" width="1" height="5.0" fill="#fff"/>
<rect x="548" y="354.3" width="1" height="99.3" fill="#000"/>
<rect x="547" y="401.1" width="3" height="20.2" fill="#000"/>
<rect x="548" y="402.1" width="1" height="18.2" fill="#fff"/>
<rect x="551" y="320.6" width="1" height="62.5" fill="#000"/>
<rect x="550" y="321.7" width="3" height="60.1" fill="#000"/>
<rect x="551" y="322.7" width="1" height="58.1" fill="#fff"/>
<rect x="554" y="302.2" width="1" height="76.9" fill="#000"/>
<rect x="553" y="314.3" width="3" height="57.4" fill="#000"/>
<rect x="554" y="315.3" width="1" height="55.4" fill="#3b7798"/>
<rect x="558" y="349.3" width="1" height="28.9" fill="#000"/>
<rect x="557" y="352.4" width="3" height="12.0" fill="#000"/>
<rect x="558" y="353.4" width="1" height="10.0" fill="#fff"/>
<rect x="561" y="348.2" width="1" height="18.4" fill="#000"/>
<rect x="560" y="352.4" width="3" height="11.0" fill="#000"/>
<rect x="561" y="353.4" width="1" height="9.0" fill="#3b7798"/>
<rect x="564" y="360.7" width="1" height="17.5" fill="#000"/>
<rect x="563" y="367.0" width="3" height="1.0" fill="#000"/>
<rect x="567" y="339.0" width="1" height="26.9" fill="#000"/>
<rect x="566" y="339.5" width="3" height="25.2" fill="#000"/>
<rect x="567" y="340.5" width="1" height="23.2" fill="#fff"/>
<rect x="571" y="331.6" width="1" height="27.6" fill="#000"/>
<rect x="570" y="338.3" width="3" height="20.2" fill="#000"/>
<rect x="571" y="339.3" width="1" height="18.2" fill="#3b7798"/>
<rect x="574" y="353.7" width="1" height="32.7" fill="#000"/>
<rect x="573" y="356.6" width="3" height="24.3" fill="#000"/>
<rect x="574" y="357.6" width="1" height="22.3" fill="#3b7798"/>
<rect x="577" y="380.9" width="1" height="12.0" fill="#000"/>
<rect x="576" y="381.3" width="3" height="9.2" fill="#000"/>
<rect x="577" y="382.3" width="1" height="7.2" fill="#3b7798"/>
<rect x="581" y="366.2" width="1" height="27.6" fill="#000"/>
<rect x="580" y="372.1" width="3" height="19.9" fill="#000"/>
<rect x="581" y="373.1" width="1" height="17.9" fill="#fff"/>
<rect x="584" y="370.3" width="1" height="3.7" fill="#000"/>
<rect x="583" y="372.0" width="3" height="1.0" fill="#000"/>
<rect x="587" y="374.0" width="1" height="7.9" fill="#000"/>
<rect x="586" y="376.4" width="3" height="5.0" fill="#000"/>
<rect x="587" y="377.4" width="1" height="3.0" fill="#fff"/>
<rect x="591" y="372.7" width="1" height="23.4" fill="#000"/>
<rect x="590" y="379.0" width="3" height="2.4" fill="#000"/>
<rect x="591" y="380.0" width="1" height="0.4" fill="#fff"/>
<rect x="594" y="352.5" width="1" height="25.2" fill="#000"/>
<rect x="593" y="362.4" width="3" height="14.0" fill="#000"/>
<rect x="594" y="363.4" width="1" height="12.0" fill="#fff"/>
<rect x="597" y="359.3" width="1" height="22.1" fill="#000"/>
<rect x="596" y="361.1" width="3" height="19.7" fill="#000"/>
<rect x="597" y="362.1" width="1" height="17.7" fill="#3b7798"/>
<rect x="601" y="371.3" width="1" height="17.5" fill="#000"/>
<rect x="600" y="376.4" width="3" height="5.0" fill="#000"/>
<rect x="601" y="377.4" width="1" height="3.0" fill="#fff"/>
<rect x="604" y="356.9" width="1" height="38.6" fill="#000"/>
<rect x="603" y="376.0" width="3" height="1.0" fill="#000"/>
<rect x="607" y="368.0" width="1" height="15.8" fill="#000"/>
<rect x="606" y="377.0" width="3" height="1.0" fill="#000"/>
<rect x="611" y="370.3" width="1" height="17.1" fill="#000"/>
<rect x="610" y="375.3" width="3" height="4.8" fill="#000"/>
<rect x="611" y="376.3" width="1" height="2.8" fill="#3b7798"/>
<rect x="614" y="375.9" width="1" height="10.1" fill="#000"/>
<rect x="613" y="380.1" width="3" height="2.6" fill="#000"/>
<rect x="614" y="381.1" width="1" height="0.6" fill="#fff"/>
<rect x="617" y="372.7" width="1" height="28.9" fill="#000"/>
<rect x="616" y="386.0" width="3" height="1.0" fill="#000"/>
<rect x="621" y="374.6" width="1" height="16.0" fill="#000"/>
<rect x="620" y="377.1" width="3" height="11.6" fill="#000"/>
<rect x="621" y="378.1" width="1" height="9.6" fill="#fff"/>
<rect x="624" y="375.9" width="1" height="1.3" fill="#000"/>
<rect x="623" y="376.0" width="3" height="1.0" fill="#000"/>
<rect x="627" y="367.2" width="1" height="10.5" fill="#000"/>
<rect x="626" y="368.0" width="3" height="9.2" fill="#000"/>
<rect x="627" y="369.0" width="1" height="7.2" fill="#fff"/>
<rect x="631" y="356.9" width="1" height="17.1" fill="#000"/>
<rect x="630" y="366.0" width="3" height="1.0" fill="#000"/>
<rect x="634" y="362.1" width="1" height="22.4" fill="#000"/>
<rect x="633" y="363.0" width="3" height="21.1" fill="#000"/>
<rect x="634" y="364.0" width="1" height="19.1" fill="#3b7798"/>
<rect x="637" y="375.9" width="1" height="13.4" fill="#000"/>
<rect x="636" y="380.5" width="3" height="2.2" fill="#000"/>
<rect x="637" y="381.5" width="1" height="0.2" fill="#fff"/>
<rect x="641" y="376.4" width="1" height="5.0" fill="#000"/>
<rect x="640" y="379.0" width="3" height="1.0" fill="#000"/>
<rect x="644" y="375.3" width="1" height="12.1" fill="#000"/>
<rect x="643" y="380.1" width="3" height="6.3" fill="#000"/>
<rect x="644" y="381.1" width="1" height="4.3" fill="#3b7798"/>
<rect x="647" y="386.0" width="1" height="9.6" fill="#000"/>
<rect x="646" y="386.9" width="3" height="5.5" fill="#000"/>
<rect x="647" y="387.9" width="1" height="3.5" fill="#3b7798"/>
<rect x="651" y="374.0" width="1" height="26.3" fill="#000"/>
<rect x="650" y="377.1" width="3" height="15.8" fill="#000"/>
<rect x="651" y="378.1" width="1" height="13.8" fill="#fff"/>
<rect x="654" y="374.0" width="1" height="18.9" fill="#000"/>
<rect x="653" y="376.4" width="3" height="15.4" fill="#000"/>
<rect x="654" y="377.4" width="1" height="13.4" fill="#3b7798"/>
<rect x="657" y="385.1" width="1" height="21.5" fill="#000"/>
<rect x="656" y="392.4" width="3" height="13.8" fill="#000"/>
<rect x="657" y="393.4" width="1" height="11.8" fill="#3b7798"/>
<rect x="661" y="401.6" width="1" height="39.2" fill="#000"/>
<rect x="660" y="406.6" width="3" height="33.7" fill="#000"/>
<rect x="661" y="407.6" width="1" height="31.7" fill="#3b7798"/>
<rect x="664" y="438.4" width="1" height="8.3" fill="#000"/>
<rect x="663" y="439.3" width="3" height="7.0" fill="#000"/>
<rect x="664" y="440.3" width="1" height="5.0" fill="#3b7798"/>
<rect x="667" y="446.7" width="1" height="1.8" fill="#000"/>
<rect x="666" y="448.0" width="3" height="1.0" fill="#000"/>
<rect x="671" y="432.2" width="1" height="29.1" fill="#000"/>
<rect x="670" y="443.2" width="3" height="14.5" fill="#000"/>
<rect x="671" y="444.2" width="1" height="12.5" fill="#fff"/>
<rect x="674" y="432.2" width="1" height="35.1" fill="#000"/>
<rect x="673" y="442.7" width="3" height="23.9" fill="#000"/>
<rect x="674" y="443.7" width="1" height="21.9" fill="#3b7798"/>
<rect x="677" y="453.2" width="1" height="16.4" fill="#000"/>
<rect x="676" y="458.4" width="3" height="8.2" fill="#000"/>
<rect x="677" y="459.4" width="1" height="6.2" fill="#fff"/>
<rect x="681" y="450.9" width="1" height="36.6" fill="#000"/>
<rect x="680" y="457.2" width="3" height="16.1" fill="#000"/>
<rect x="681" y="458.2" width="1" height="14.1" fill="#3b7798"/>
<rect x="684" y="467.4" width="1" height="47.5" fill="#000"/>
<rect x="683" y="468.1" width="3" height="46.3" fill="#000"/>
<rect x="684" y="469.1" width="1" height="44.3" fill="#3b7798"/>
<rect x="687" y="510.0" width="1" height="6.0" fill="#000"/>
<rect x="686" y="513.4" width="3" height="2.1" fill="#000"/>
<rect x="691" y="502.0" width="1" height="11.7" fill="#000"/>
<rect x="690" y="502.9" width="3" height="9.0" fill="#000"/>
<rect x="691" y="503.9" width="1" height="7.0" fill="#fff"/>
<rect x="694" y="510.7" width="1" height="35.1" fill="#000"/>
<rect x="693" y="515.2" width="3" height="8.2" fill="#000"/>
<rect x="694" y="516.2" width="1" height="6.2" fill="#3b7798"/>
<rect x="697" y="511.5" width="1" height="36.6" fill="#000"/>
<rect x="696" y="518.2" width="3" height="29.1" fill="#000"/>
<rect x="697" y="519.2" width="1" height="27.1" fill="#3b7798"/>
<rect x="701" y="505.5" width="1" height="52.3" fill="#000"/>
<rect x="700" y="506.2" width="3" height="43.3" fill="#000"/>
<rect x="701" y="507.2" width="1" height="41.3" fill="#fff"/>
<rect x="704" y="498.0" width="1" height="26.9" fill="#000"/>
<rect x="703" y="503.5" width="3" height="3.9" fill="#000"/>
<rect x="704" y="504.5" width="1" height="1.9" fill="#3b7798"/>
<rect x="707" y="480.1" width="1" height="27.7" fill="#000"/>
<rect x="706" y="481.1" width="3" height="25.9" fill="#000"/>
<rect x="707" y="482.1" width="1" height="23.9" fill="#fff"/>
<rect x="711" y="470.4" width="1" height="9.3" fill="#000"/>
<rect x="710" y="471.1" width="3" height="8.2" fill="#000"/>
<rect x="711" y="472.1" width="1" height="6.2" fill="#fff"/>
<rect x="714" y="470.1" width="1" height="4.0" fill="#000"/>
<rect x="713" y="471.0" width="3" height="1.0" fill="#000"/>
<rect x="717" y="470.1" width="1" height="22.7" fill="#000"/>
<rect x="716" y="470.4" width="3" height="20.2" fill="#000"/>
<rect x="717" y="471.4" width="1" height="18.2" fill="#3b7798"/>
<rect x="721" y="476.3" width="1" height="15.2" fill="#000"/>
<rect x="720" y="478.1" width="3" height="9.4" fill="#000"/>
<rect x="721" y="479.1" width="1" height="7.4" fill="#fff"/>
<rect x="724" y="456.6" width="1" height="27.2" fill="#000"/>
<rect x="723" y="459.1" width="3" height="21.7" fill="#000"/>
<rect x="724" y="460.1" width="1" height="19.7" fill="#fff"/>
<rect x="727" y="433.0" width="1" height="26.6" fill="#000"/>
<rect x="726" y="433.7" width="3" height="25.4" fill="#000"/>
<rect x="727" y="434.7" width="1" height="23.4" fill="#fff"/>
<rect x="730" y="427.2" width="1" height="25.3" fill="#000"/>
<rect x="729" y="433.4" width="3" height="15.1" fill="#000"/>
<rect x="730" y="434.4" width="1" height="13.1" fill="#fff"/>
<rect x="734" y="416.9" width="1" height="14.5" fill="#000"/>
<rect x="733" y="420.0" width="3" height="10.3" fill="#000"/>
<rect x="734" y="421.0" width="1" height="8.3" fill="#fff"/>
<rect x="737" y="398.3" width="1" height="23.8" fill="#000"/>
<rect x="736" y="410.7" width="3" height="9.3" fill="#000"/>
<rect x="737" y="411.7" width="1" height="7.3" fill="#fff"/>
<rect x="740" y="408.6" width="1" height="18.6" fill="#000"/>
<rect x="739" y="410.7" width="3" height="7.7" fill="#000"/>
<rect x="740" y="411.7" width="1" height="5.7" fill="#3b7798"/>
<rect x="744" y="413.8" width="1" height="6.6" fill="#000"/>
<rect x="743" y="418.0" width="3" height="1.0" fill="#000"/>
<rect x="747" y="403.4" width="1" height="10.3" fill="#000"/>
<rect x="746" y="405.1" width="3" height="6.6" fill="#000"/>
<rect x="747" y="406.1" width="1" height="4.6" fill="#fff"/>
<rect x="750" y="391.4" width="1" height="12.0" fill="#000"/>
<rect x="749" y="399.7" width="3" height="2.7" fill="#000"/>
<rect x="750" y="400.7" width="1" height="0.7" fill="#fff"/>
<rect x="754" y="397.2" width="1" height="3.1" fill="#000"/>
<rect x="753" y="399.0" width="3" height="1.0" fill="#000"/>
<rect x="757" y="246.2" width="1" height="167.6" fill="#000"/>
<rect x="756" y="322.8" width="3" height="77.6" fill="#000"/>
<rect x="757" y="323.8" width="1" height="75.6" fill="#fff"/>
<rect x="760" y="307.9" width="1" height="39.7" fill="#000"/>
<rect x="759" y="321.7" width="3" height="11.0" fill="#000"/>
<rect x="760" y="322.7" width="1" height="9.0" fill="#3b7798"/>
<rect x="764" y="323.8" width="1" height="25.9" fill="#000"/>
<rect x="763" y="326.5" width="3" height="5.0" fill="#000"/>
<rect x="764" y="327.5" width="1" height="3.0" fill="#fff"/>
<rect x="767" y="322.8" width="1" height="17.6" fill="#000"/>
<rect x="766" y="323.8" width="3" height="13.4" fill="#000"/>
<rect x="767" y="324.8" width="1" height="11.4" fill="#3b7798"/>
<rect x="770" y="333.5" width="1" height="5.4" fill="#000"/>
<rect x="769" y="338.0" width="3" height="1.0" fill="#000"/>
<rect x="774" y="332.1" width="1" height="6.2" fill="#000"/>
<rect x="773" y="333.1" width="3" height="4.1" fill="#000"/>
<rect x="774" y="334.1" width="1" height="2.1" fill="#fff"/>
<rect x="777" y="329.0" width="1" height="14.9" fill="#000"/>
<rect x="776" y="330.6" width="3" height="9.7" fill="#000"/>
<rect x="777" y="331.6" width="1" height="7.7" fill="#3b7798"/>
<rect x="780" y="325.2" width="1" height="16.6" fill="#000"/>
<rect x="779" y="331.0" width="3" height="8.7" fill="#000"/>
<rect x="780" y="332.0" width="1" height="6.7" fill="#fff"/>
<rect x="784" y="324.4" width="1" height="10.3" fill="#000"/>
<rect x="783" y="329.0" width="3" height="1.0" fill="#000"/>
<rect x="787" y="321.7" width="1" height="9.3" fill="#000"/>
<rect x="786" y="329.0" width="3" height="1.0" fill="#000"/>
<rect x="790" y="323.8" width="1" height="3.1" fill="#000"/>
<rect x="789" y="325.0" width="3" height="1.0" fill="#000"/>
<rect x="794" y="313.4" width="1" height="9.3" fill="#000"/>
<rect x="793" y="319.0" width="3" height="2.7" fill="#000"/>
<rect x="794" y="320.0" width="1" height="0.7" fill="#fff"/>
<rect x="797" y="310.8" width="1" height="8.9" fill="#000"/>
<rect x="796" y="314.5" width="3" height="3.1" fill="#000"/>
<rect x="797" y="315.5" width="1" height="1.1" fill="#3b7798"/>
<rect x="800" y="311.4" width="1" height="8.3" fill="#000"/>
<rect x="799" y="313.4" width="3" height="5.2" fill="#000"/>
<rect x="800" y="314.4" width="1" height="3.2" fill="#3b7798"/>
<rect x="804" y="314.5" width="1" height="21.7" fill="#000"/>
<rect x="803" y="318.2" width="3" height="16.6" fill="#000"/>
<rect x="804" y="319.2" width="1" height="14.6" fill="#3b7798"/>
<rect x="807" y="326.9" width="1" height="13.4" fill="#000"/>
<rect x="806" y="332.1" width="3" height="2.7" fill="#000"/>
<rect x="807" y="333.1" width="1" height="0.7" fill="#fff"/>
<rect x="810" y="326.5" width="1" height="26.3" fill="#000"/>
<rect x="809" y="331.0" width="3" height="1.0" fill="#000"/>
<rect x="814" y="322.8" width="1" height="9.9" fill="#000"/>
<rect x="813" y="323.8" width="3" height="8.3" fill="#000"/>
<rect x="814" y="324.8" width="1" height="6.3" fill="#fff"/>
<rect x="817" y="319.0" width="1" height="2.1" fill="#000"/>
<rect x="816" y="320.0" width="3" height="1.0" fill="#000"/>
<rect x="820" y="320.3" width="1" height="15.9" fill="#000"/>
<rect x="819" y="320.7" width="3" height="14.1" fill="#000"/>
<rect x="820" y="321.7" width="1" height="12.1" fill="#3b7798"/>
<rect x="824" y="331.0" width="1" height="9.3" fill="#000"/>
<rect x="823" y="332.1" width="3" height="7.2" fill="#000"/>
<rect x="824" y="333.1" width="1" height="5.2" fill="#3b7798"/>
<rect x="827" y="334.1" width="1" height="11.4" fill="#000"/>
<rect x="826" y="339.3" width="3" height="5.2" fill="#000"/>
<rect x="827" y="340.3" width="1" height="3.2" fill="#3b7798"/>
<rect x="830" y="336.2" width="1" height="17.2" fill="#000"/>
<rect x="829" y="342.4" width="3" height="5.2" fill="#000"/>
<rect x="830" y="343.4" width="1" height="3.2" fill="#3b7798"/>
<rect x="834" y="339.3" width="1" height="8.7" fill="#000"/>
<rect x="833" y="345.5" width="3" height="2.1" fill="#000"/>
<rect x="837" y="344.9" width="1" height="29.8" fill="#000"/>
<rect x="836" y="345.3" width="3" height="23.8" fill="#000"/>
<rect x="837" y="346.3" width="1" height="21.8" fill="#3b7798"/>
<rect x="840" y="353.8" width="1" height="29.0" fill="#000"/>
<rect x="839" y="359.4" width="3" height="9.7" fill="#000"/>
<rect x="840" y="360.4" width="1" height="7.7" fill="#fff"/>
<rect x="844" y="342.0" width="1" height="15.8" fill="#000"/>
<rect x="843" y="343.0" width="3" height="14.0" fill="#000"/>
<rect x="844" y="344.0" width="1" height="12.0" fill="#fff"/>
<rect x="847" y="340.9" width="1" height="15.3" fill="#000"/>
<rect x="846" y="342.0" width="3" height="13.4" fill="#000"/>
<rect x="847" y="343.0" width="1" height="11.4" fill="#3b7798"/>
<rect x="850" y="336.1" width="1" height="25.7" fill="#000"/>
<rect x="849" y="354.6" width="3" height="1.9" fill="#000"/>
<rect x="854" y="353.0" width="1" height="4.0" fill="#000"/>
<rect x="853" y="356.0" width="3" height="1.0" fill="#000"/>
<rect x="857" y="356.2" width="1" height="20.9" fill="#000"/>
<rect x="856" y="357.5" width="3" height="14.0" fill="#000"/>
<rect x="857" y="358.5" width="1" height="12.0" fill="#3b7798"/>
<rect x="860" y="355.4" width="1" height="18.2" fill="#000"/>
<rect x="859" y="359.4" width="3" height="12.1" fill="#000"/>
<rect x="860" y="360.4" width="1" height="10.1" fill="#fff"/>
<rect x="864" y="344.9" width="1" height="14.8" fill="#000"/>
<rect x="863" y="345.7" width="3" height="13.7" fill="#000"/>
<rect x="864" y="346.7" width="1" height="11.7" fill="#fff"/>
<rect x="867" y="335.0" width="1" height="16.7" fill="#000"/>
<rect x="866" y="346.2" width="3" height="2.3" fill="#000"/>
<rect x="867" y="347.2" width="1" height="0.3" fill="#fff"/>
<rect x="870" y="340.1" width="1" height="8.0" fill="#000"/>
<rect x="869" y="346.0" width="3" height="1.0" fill="#000"/>
<rect x="874" y="323.2" width="1" height="40.2" fill="#000"/>
<rect x="873" y="345.3" width="3" height="16.1" fill="#000"/>
<rect x="874" y="346.3" width="1" height="14.1" fill="#3b7798"/>
<rect x="877" y="352.2" width="1" height="8.8" fill="#000"/>
<rect x="876" y="357.0" width="3" height="1.0" fill="#000"/>
<rect x="880" y="355.4" width="1" height="4.3" fill="#000"/>
<rect x="879" y="357.0" width="3" height="1.0" fill="#000"/>
<rect x="884" y="351.0" width="1" height="11.6" fill="#000"/>
<rect x="883" y="354.3" width="3" height="3.2" fill="#000"/>
<rect x="884" y="355.3" width="1" height="1.2" fill="#fff"/>
<rect x="887" y="347.8" width="1" height="13.2" fill="#000"/>
<rect x="886" y="353.3" width="3" height="6.1" fill="#000"/>
<rect x="887" y="354.3" width="1" height="4.1" fill="#3b7798"/>
<rect x="890" y="353.0" width="1" height="8.8" fill="#000"/>
<rect x="889" y="360.0" width="3" height="1.0" fill="#000"/>
<rect x="894" y="324.3" width="1" height="21.4" fill="#000"/>
<rect x="893" y="325.9" width="3" height="12.2" fill="#000"/>
<rect x="894" y="326.9" width="1" height="10.2" fill="#fff"/>
<rect x="897" y="320.5" width="1" height="5.1" fill="#000"/>
<rect x="896" y="323.2" width="3" height="2.1" fill="#000"/>
<rect x="900" y="316.0" width="1" height="7.2" fill="#000"/>
<rect x="899" y="318.4" width="3" height="3.2" fill="#000"/>
<rect x="900" y="319.4" width="1" height="1.2" fill="#fff"/>
<rect x="903" y="317.6" width="1" height="23.3" fill="#000"/>
<rect x="902" y="318.4" width="3" height="18.5" fill="#000"/>
<rect x="903" y="319.4" width="1" height="16.5" fill="#3b7798"/>
<rect x="907" y="322.4" width="1" height="16.1" fill="#000"/>
<rect x="906" y="328.5" width="3" height="8.0" fill="#000"/>
<rect x="907" y="329.5" width="1" height="6.0" fill="#fff"/>
<rect x="910" y="323.2" width="1" height="10.5" fill="#000"/>
<rect x="909" y="327.2" width="3" height="4.0" fill="#000"/>
<rect x="910" y="328.2" width="1" height="2.0" fill="#3b7798"/>
<rect x="913" y="322.1" width="1" height="11.6" fill="#000"/>
<rect x="912" y="327.6" width="3" height="2.1" fill="#000"/>
<rect x="917" y="296.3" width="1" height="31.7" fill="#000"/>
<rect x="916" y="299.6" width="3" height="28.0" fill="#000"/>
<rect x="917" y="300.6" width="1" height="26.0" fill="#fff"/>
<rect x="920" y="276.5" width="1" height="22.0" fill="#000"/>
<rect x="919" y="281.4" width="3" height="13.4" fill="#000"/>
<rect x="920" y="282.4" width="1" height="11.4" fill="#fff"/>
<rect x="923" y="262.9" width="1" height="19.3" fill="#000"/>
<rect x="922" y="264.8" width="3" height="14.5" fill="#000"/>
<rect x="923" y="265.8" width="1" height="12.5" fill="#fff"/>
<rect x="927" y="257.2" width="1" height="17.7" fill="#000"/>
<rect x="926" y="258.0" width="3" height="6.4" fill="#000"/>
<rect x="927" y="259.0" width="1" height="4.4" fill="#fff"/>
<rect x="930" y="256.1" width="1" height="11.6" fill="#000"/>
<rect x="929" y="258.4" width="3" height="6.9" fill="#000"/>
<rect x="930" y="259.4" width="1" height="4.9" fill="#3b7798"/>
<rect x="933" y="260.9" width="1" height="6.0" fill="#000"/>
<rect x="932" y="263.0" width="3" height="1.0" fill="#000"/>
<rect x="937" y="259.7" width="1" height="1.9" fill="#000"/>
<rect x="936" y="261.0" width="3" height="1.0" fill="#000"/>
<rect x="940" y="256.1" width="1" height="4.8" fill="#000"/>
<rect x="939" y="260.0" width="3" height="1.0" fill="#000"/>
<rect x="943" y="257.2" width="1" height="16.6" fill="#000"/>
<rect x="942" y="259.3" width="3" height="8.7" fill="#000"/>
<rect x="943" y="260.3" width="1" height="6.7" fill="#3b7798"/>
<rect x="947" y="260.5" width="1" height="31.7" fill="#000"/>
<rect x="946" y="266.9" width="3" height="11.7" fill="#000"/>
<rect x="947" y="267.9" width="1" height="9.7" fill="#3b7798"/>
<rect x="950" y="274.9" width="1" height="26.9" fill="#000"/>
<rect x="949" y="276.1" width="3" height="17.4" fill="#000"/>
<rect x="950" y="277.1" width="1" height="15.4" fill="#3b7798"/>
<rect x="953" y="288.6" width="1" height="5.1" fill="#000"/>
<rect x="952" y="291.0" width="3" height="2.4" fill="#000"/>
<rect x="953" y="292.0" width="1" height="0.4" fill="#fff"/>
</g>
<rect x="71.8" y="720.8" width="21.4" height="21.4" rx="2.4" fill="#fff" stroke="#4a4a4a" stroke-width="2.2"/>
<text x="78.6" y="736.7" font-size="14.5" font-weight="bold" textLength="8" lengthAdjust="spacingAndGlyphs" fill="#333" stroke="#333" stroke-width="0.4">E</text>
<rect x="284.8" y="720.8" width="21.4" height="21.4" rx="2.4" fill="#fff" stroke="#4a4a4a" stroke-width="2.2"/>
<text x="291.6" y="736.7" font-size="14.5" font-weight="bold" textLength="8" lengthAdjust="spacingAndGlyphs" fill="#333" stroke="#333" stroke-width="0.4">E</text>
<rect x="793.8" y="720.8" width="21.4" height="21.4" rx="2.4" fill="#fff" stroke="#4a4a4a" stroke-width="2.2"/>
<text x="800.6" y="736.7" font-size="14.5" font-weight="bold" textLength="8" lengthAdjust="spacingAndGlyphs" fill="#333" stroke="#333" stroke-width="0.4">E</text>
<rect x="1039.6" y="720.9" width="21.4" height="21.4" rx="2.4" fill="#fff" stroke="#d63be0" stroke-width="2.2"/>
<text x="1046.3999999999999" y="736.8000000000001" font-size="14.5" font-weight="bold" textLength="8" lengthAdjust="spacingAndGlyphs" fill="#d63be0" stroke="#d63be0" stroke-width="0.4">E</text>
<circle cx="953.6" cy="731.4" r="12.2" fill="#fff" stroke="#8a239f" stroke-width="1.8"/>
<path d="M957.6 724.8 L947.8 732.2 L953.6 731.8 L949.2 737.8 L959.5 730.4 L953.4 730.8 Z" fill="#8a239f"/>
<text class="ax" x="1285" y="172.4" font-size="15" textLength="45.2" lengthAdjust="spacingAndGlyphs">120.00</text>
<text class="ax" x="1285" y="245.1" font-size="15" textLength="45.2" lengthAdjust="spacingAndGlyphs">110.00</text>
<text class="ax" x="1285" y="390.3" font-size="15" textLength="37.0" lengthAdjust="spacingAndGlyphs">90.00</text>
<text class="ax" x="1285" y="462.9" font-size="15" textLength="37.0" lengthAdjust="spacingAndGlyphs">80.00</text>
<text class="ax" x="1285" y="608.2" font-size="15" textLength="37.0" lengthAdjust="spacingAndGlyphs">60.00</text>
<text class="ax" x="1285" y="680.8" font-size="15" textLength="37.0" lengthAdjust="spacingAndGlyphs">50.00</text>
<path d="M1274 87H1333.5Q1336 87 1336 89.5V105.5Q1336 108 1333.5 108H1274Z" fill="#000"/>
<text class="lbl" x="1285" y="103" textLength="45.2" lengthAdjust="spacingAndGlyphs">129.63</text>
<path d="M1274 236H1333.5Q1336 236 1336 238.5V254.5Q1336 257 1333.5 257H1274Z" fill="#000"/>
<text class="lbl" x="1285" y="252" textLength="45.2" lengthAdjust="spacingAndGlyphs">109.14</text>
<path d="M1274 360H1325.5Q1328 360 1328 362.5V378.5Q1328 381 1325.5 381H1274Z" fill="#000"/>
<text class="lbl" x="1285" y="376" textLength="37.0" lengthAdjust="spacingAndGlyphs">91.95</text>
<path d="M1274 438H1325.5Q1328 438 1328 440.5V456.5Q1328 459 1325.5 459H1274Z" fill="#000"/>
<text class="lbl" x="1285" y="454" textLength="37.0" lengthAdjust="spacingAndGlyphs">81.31</text>
<path d="M1274 522H1325.5Q1328 522 1328 524.5V540.5Q1328 543 1325.5 543H1274Z" fill="#000"/>
<text class="lbl" x="1285" y="538" textLength="37.0" lengthAdjust="spacingAndGlyphs">69.73</text>
<path d="M1274 280H1346.5Q1349 280 1349 282.5V316.5Q1349 319 1346.5 319H1274Z" fill="#000"/>
<text class="lbl" x="1285" y="295.7" textLength="45.2" lengthAdjust="spacingAndGlyphs">102.97</text>
<text x="1285.4" y="314"  font-size="14.8" fill="#cfcfcf" textLength="58.5" lengthAdjust="spacingAndGlyphs">14:59:54</text>
<path d="M1274 319H1333.5Q1336 319 1336 321.5V337.5Q1336 340 1333.5 340H1274Z" fill="#000"/>
<text class="lbl" x="1285" y="335" textLength="45.2" lengthAdjust="spacingAndGlyphs">100.31</text>
<clipPath id="cp"><rect x="1270" y="700" width="90" height="48"/></clipPath>
<g clip-path="url(#cp)">
<path d="M1274 717H1338.5Q1341 717 1341 719.5V735Q1341 737.5 1338.5 737.5H1274Z" fill="#2e2ee6"/>
<text x="1284.6" y="733" font-size="15" fill="#e9e9ff" stroke="#e9e9ff" stroke-width="0.25" textLength="52" lengthAdjust="spacingAndGlyphs">70.63M</text>
<path d="M1274 737.5H1324Q1326.3 737.5 1326.3 740V760H1274Z" fill="#1f9e80"/>
<text x="1284.6" y="753.6" font-size="15" fill="#e6fff6" stroke="#e6fff6" stroke-width="0.25" textLength="35" lengthAdjust="spacingAndGlyphs">2.6M</text>
</g>
<rect x="1278.5" y="39.5" width="71" height="31" rx="5" fill="#fff" stroke="#f0f1f4" stroke-width="1"/>
<text x="1289.2" y="60" font-size="15.2"fill="#333" textLength="28" lengthAdjust="spacingAndGlyphs">RUB</text>
<text y="59.2" font-size="15.2" fill="#333"><tspan x="23.4" textLength="25.0" lengthAdjust="spacingAndGlyphs">VTB</tspan> <tspan x="54.0" textLength="4.1" lengthAdjust="spacingAndGlyphs">·</tspan> <tspan x="63.6" textLength="17.0" lengthAdjust="spacingAndGlyphs">1D</tspan> <tspan x="85.6" textLength="4.1" lengthAdjust="spacingAndGlyphs">·</tspan> <tspan x="95.2" textLength="25.2" lengthAdjust="spacingAndGlyphs">RUS</tspan> <tspan x="130.4" textLength="53.3" lengthAdjust="spacingAndGlyphs">O102.61</tspan> <tspan x="194.7" textLength="53.6" lengthAdjust="spacingAndGlyphs">H103.13</tspan> <tspan x="258.6" textLength="50.5" lengthAdjust="spacingAndGlyphs">L102.60</tspan> <tspan x="319.4" textLength="53.2" lengthAdjust="spacingAndGlyphs">C102.97</tspan> <tspan x="382.1" textLength="97.7" lengthAdjust="spacingAndGlyphs">+0.40 (+0.39%)</tspan></text>
<text class="ax" x="15.2" y="813.5" textLength="19.8" lengthAdjust="spacingAndGlyphs">Jul</text>
<text class="ax" x="149.7" y="813.5" textLength="24.5" lengthAdjust="spacingAndGlyphs">Sep</text>
<text class="ax" x="219.6" y="813.5" textLength="23.6" lengthAdjust="spacingAndGlyphs">Oct</text>
<text class="ax" x="295.3" y="813.5" textLength="26.2" lengthAdjust="spacingAndGlyphs">Nov</text>
<text class="ax" x="365.2" y="813.5" textLength="25.2" lengthAdjust="spacingAndGlyphs">Dec</text>
<text class="ax" x="433.5" y="813.5" textLength="35.0" lengthAdjust="spacingAndGlyphs" font-weight="bold">2025</text>
<text class="ax" x="505.1" y="813.5" textLength="24.9" lengthAdjust="spacingAndGlyphs">Feb</text>
<text class="ax" x="571.4" y="813.5" textLength="24.9" lengthAdjust="spacingAndGlyphs">Mar</text>
<text class="ax" x="662.2" y="813.5" textLength="23.8" lengthAdjust="spacingAndGlyphs">Apr</text>
<text class="ax" x="753.3" y="813.5" textLength="26.9" lengthAdjust="spacingAndGlyphs">May</text>
<text class="ax" x="845.8" y="813.5" textLength="23.5" lengthAdjust="spacingAndGlyphs">Jun</text>
<text class="ax" x="936.6" y="813.5" textLength="20.5" lengthAdjust="spacingAndGlyphs">Jul</text>
<text class="ax" x="1037.4" y="813.5" textLength="25.2" lengthAdjust="spacingAndGlyphs">Aug</text>
<text class="ax" x="1133.9" y="813.5" textLength="24.9" lengthAdjust="spacingAndGlyphs">Sep</text>
<text class="ax" x="1227.4" y="813.5" textLength="23.9" lengthAdjust="spacingAndGlyphs">Oct</text>
<g transform="translate(13.2,839.4) scale(0.68)"><path d="M14 22H7V11H0V4h14v18zM28 22h-8l7.5-18h8L28 22z" fill="#111"/><circle cx="20" cy="8" r="4" fill="#111"/></g>
<text x="42.5" y="853.5" font-size="15.5" fill="#222" textLength="87" lengthAdjust="spacingAndGlyphs">TradingView</text>
</svg></body></html>
